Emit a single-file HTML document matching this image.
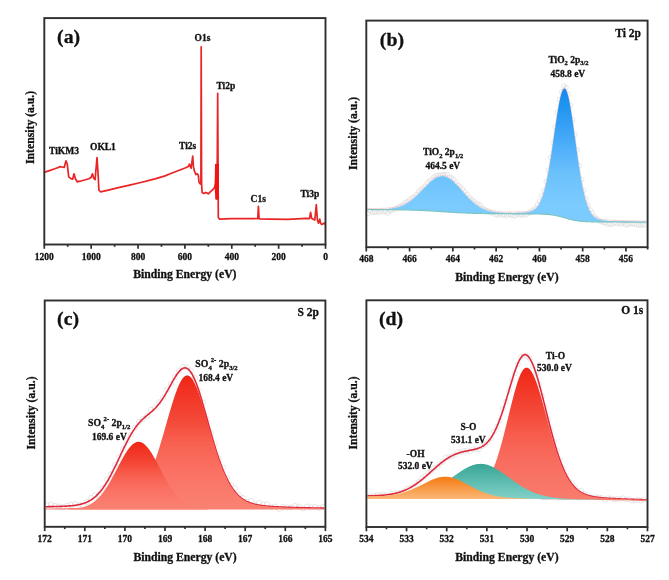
<!DOCTYPE html>
<html><head><meta charset="utf-8"><title>XPS spectra</title>
<style>html,body{margin:0;padding:0;background:#fff;}body{width:669px;height:580px;overflow:hidden;}svg{display:block;filter:blur(0.45px);}</style>
</head><body>
<svg width="669" height="580" viewBox="0 0 669 580">
<defs><linearGradient id="gb" gradientUnits="userSpaceOnUse" x1="0" y1="88" x2="0" y2="205"><stop offset="0" stop-color="#1689ee"/><stop offset="0.145" stop-color="#1e94f0"/><stop offset="0.547" stop-color="#55b2fb"/><stop offset="0.744" stop-color="#6cc2fb"/><stop offset="1" stop-color="#7ccbff"/></linearGradient><linearGradient id="gr" x1="0" y1="0" x2="0" y2="1"><stop offset="0" stop-color="#f02616"/><stop offset="0.33" stop-color="#f44838"/><stop offset="0.5" stop-color="#f86050"/><stop offset="0.72" stop-color="#fa7264"/><stop offset="1" stop-color="#fa8272"/></linearGradient><linearGradient id="go" x1="0" y1="0" x2="0" y2="1"><stop offset="0" stop-color="#f57a12"/><stop offset="1" stop-color="#fcb878"/></linearGradient><linearGradient id="gt" x1="0" y1="0" x2="0" y2="1"><stop offset="0" stop-color="#38a696"/><stop offset="1" stop-color="#84d2ca"/></linearGradient><linearGradient id="gr2" x1="0" y1="0" x2="0" y2="1"><stop offset="0" stop-color="#f02616"/><stop offset="0.33" stop-color="#f44838"/><stop offset="0.5" stop-color="#f75c4c"/><stop offset="0.72" stop-color="#f86e60"/><stop offset="1" stop-color="#f87c6c"/></linearGradient></defs>
<rect width="669" height="580" fill="#ffffff"/>
<path d="M44,172.4 L49.4,170.6 L54.8,168.8 L58.3,167.5 L60.1,166.6 L61.9,167 L64.2,167.5 L66,160.8 L67.3,164.3 L68.7,176.9 L70.9,178.7 L72.7,179.1 L74,173.8 L75.4,178.7 L77.2,181.8 L79.9,181.2 L84.4,180 L88.8,178.7 L91.1,177.4 L92.4,173.8 L93.8,178.3 L95.1,179.6 L97,157.6 L98,172.4 L98.9,190 L100.5,191.8 L107.2,190.3 L118.4,187.7 L129.6,185.1 L140.8,182.5 L155,178.9 L165,175.9 L170.2,173.8 L175.3,171.7 L180.5,169.7 L185.7,167.8 L188.3,166.6 L189.4,164.1 L191.1,168.3 L192.7,156 L193.5,166.9 L194.6,171.7 L195.9,174.5 L197.3,173.8 L198.3,175.2 L199,182.1 L200.1,183.8 L200.9,184.2 L201.2,46.8 L201.6,184 L202.1,192.4 L203.9,193.4 L205.9,192.4 L208.3,193.8 L210.8,191.4 L212.8,189.7 L214.6,187.2 L215.6,184 L215.8,164.5 L216.6,199 L217.2,170 L217.7,93.3 L218.3,217.5 L219.5,219.1 L231.6,218.6 L254.5,218.5 L257.8,218.6 L258.4,206.3 L259.1,218.8 L270,219.1 L287.9,219.3 L305.9,218.4 L309.5,218.6 L310.6,212.4 L311.7,218.6 L314.8,220 L316.3,204.7 L317.4,220 L318.4,223.1 L319.8,219.1 L320.7,223.6 L322,224.5 L323.8,223.1 L325.2,224.5" fill="none" stroke="#e92424" stroke-width="1.7" stroke-linejoin="round"/>
<path d="M214.6,186.8 L215.4,164 L219.0,163.5 L219.0,199.5 L215.4,199.5 Z" fill="#f01414"/>
<g fill="none" stroke="#d4d4d4" stroke-width="0.6" opacity="0.9"><circle cx="368" cy="213.39" r="2.3"/><circle cx="370.2" cy="211.08" r="2.3"/><circle cx="372.4" cy="212.55" r="2.3"/><circle cx="374.6" cy="212.02" r="2.3"/><circle cx="376.8" cy="212.02" r="2.3"/><circle cx="379" cy="212.05" r="2.3"/><circle cx="381.2" cy="211.03" r="2.3"/><circle cx="383.4" cy="211.75" r="2.3"/><circle cx="385.6" cy="211.19" r="2.3"/><circle cx="387.8" cy="212.96" r="2.3"/><circle cx="390" cy="210.99" r="2.3"/><circle cx="392.2" cy="210.14" r="2.3"/><circle cx="394.4" cy="209.46" r="2.3"/><circle cx="396.6" cy="208.36" r="2.3"/><circle cx="398.8" cy="207.04" r="2.3"/><circle cx="401" cy="205.98" r="2.3"/><circle cx="403.2" cy="204.75" r="2.3"/><circle cx="405.4" cy="202.4" r="2.3"/><circle cx="407.6" cy="201.55" r="2.3"/><circle cx="409.8" cy="199.51" r="2.3"/><circle cx="412" cy="197.98" r="2.3"/><circle cx="414.2" cy="196.91" r="2.3"/><circle cx="416.4" cy="194.42" r="2.3"/><circle cx="418.6" cy="191.76" r="2.3"/><circle cx="420.8" cy="189.69" r="2.3"/><circle cx="423" cy="187.76" r="2.3"/><circle cx="425.2" cy="186.17" r="2.3"/><circle cx="427.4" cy="182.85" r="2.3"/><circle cx="429.6" cy="180.77" r="2.3"/><circle cx="431.8" cy="179.49" r="2.3"/><circle cx="434" cy="176.91" r="2.3"/><circle cx="436.2" cy="175.89" r="2.3"/><circle cx="438.4" cy="175.54" r="2.3"/><circle cx="440.6" cy="174.86" r="2.3"/><circle cx="442.8" cy="174.52" r="2.3"/><circle cx="445" cy="175.15" r="2.3"/><circle cx="447.2" cy="174.18" r="2.3"/><circle cx="449.4" cy="177.29" r="2.3"/><circle cx="451.6" cy="177.85" r="2.3"/><circle cx="453.8" cy="179.36" r="2.3"/><circle cx="456" cy="182.46" r="2.3"/><circle cx="458.2" cy="184.99" r="2.3"/><circle cx="460.4" cy="186.85" r="2.3"/><circle cx="462.6" cy="189.03" r="2.3"/><circle cx="464.8" cy="192.05" r="2.3"/><circle cx="467" cy="194.43" r="2.3"/><circle cx="469.2" cy="197.45" r="2.3"/><circle cx="471.4" cy="199.27" r="2.3"/><circle cx="473.6" cy="200.96" r="2.3"/><circle cx="475.8" cy="203.19" r="2.3"/><circle cx="478" cy="204.1" r="2.3"/><circle cx="480.2" cy="205.1" r="2.3"/><circle cx="482.4" cy="207.86" r="2.3"/><circle cx="484.6" cy="209.59" r="2.3"/><circle cx="486.8" cy="210.64" r="2.3"/><circle cx="489" cy="211.52" r="2.3"/><circle cx="491.2" cy="212.97" r="2.3"/><circle cx="493.4" cy="212.34" r="2.3"/><circle cx="495.6" cy="214.5" r="2.3"/><circle cx="497.8" cy="214.83" r="2.3"/><circle cx="500" cy="214.07" r="2.3"/><circle cx="502.2" cy="215.14" r="2.3"/><circle cx="504.4" cy="214.77" r="2.3"/><circle cx="506.6" cy="215.71" r="2.3"/><circle cx="508.8" cy="214.35" r="2.3"/><circle cx="511" cy="214.9" r="2.3"/><circle cx="513.2" cy="215.68" r="2.3"/><circle cx="515.4" cy="215.83" r="2.3"/><circle cx="517.6" cy="214.07" r="2.3"/><circle cx="519.8" cy="214.75" r="2.3"/><circle cx="522" cy="214.97" r="2.3"/><circle cx="524.2" cy="214.22" r="2.3"/><circle cx="526.4" cy="214.89" r="2.3"/><circle cx="528.6" cy="212.83" r="2.3"/><circle cx="530.8" cy="212.54" r="2.3"/><circle cx="533" cy="210.14" r="2.3"/><circle cx="535.2" cy="208.68" r="2.3"/><circle cx="537.4" cy="204.86" r="2.3"/><circle cx="539.6" cy="201.26" r="2.3"/><circle cx="541.8" cy="195.68" r="2.3"/><circle cx="544" cy="190.64" r="2.3"/><circle cx="546.2" cy="181.33" r="2.3"/><circle cx="548.4" cy="170.3" r="2.3"/><circle cx="550.6" cy="157.45" r="2.3"/><circle cx="552.8" cy="142.52" r="2.3"/><circle cx="555" cy="126.89" r="2.3"/><circle cx="557.2" cy="112.28" r="2.3"/><circle cx="559.4" cy="99.78" r="2.3"/><circle cx="561.6" cy="91.86" r="2.3"/><circle cx="563.8" cy="86.16" r="2.3"/><circle cx="566" cy="87.72" r="2.3"/><circle cx="568.2" cy="94.29" r="2.3"/><circle cx="570.4" cy="105.45" r="2.3"/><circle cx="572.6" cy="119.64" r="2.3"/><circle cx="574.8" cy="134.36" r="2.3"/><circle cx="577" cy="149.98" r="2.3"/><circle cx="579.2" cy="165.76" r="2.3"/><circle cx="581.4" cy="179.54" r="2.3"/><circle cx="583.6" cy="190.3" r="2.3"/><circle cx="585.8" cy="198.74" r="2.3"/><circle cx="588" cy="205.04" r="2.3"/><circle cx="590.2" cy="210.08" r="2.3"/><circle cx="592.4" cy="213.09" r="2.3"/><circle cx="594.6" cy="216.88" r="2.3"/><circle cx="596.8" cy="218.6" r="2.3"/><circle cx="599" cy="220.67" r="2.3"/><circle cx="601.2" cy="221.56" r="2.3"/><circle cx="603.4" cy="222.53" r="2.3"/><circle cx="605.6" cy="222.8" r="2.3"/><circle cx="607.8" cy="224.26" r="2.3"/><circle cx="610" cy="223.96" r="2.3"/><circle cx="612.2" cy="224.13" r="2.3"/><circle cx="614.4" cy="222.52" r="2.3"/><circle cx="616.6" cy="223.5" r="2.3"/><circle cx="618.8" cy="223.48" r="2.3"/><circle cx="621" cy="224.15" r="2.3"/><circle cx="623.2" cy="222.84" r="2.3"/><circle cx="625.4" cy="224.65" r="2.3"/><circle cx="627.6" cy="224.68" r="2.3"/><circle cx="629.8" cy="223.57" r="2.3"/><circle cx="632" cy="223.79" r="2.3"/><circle cx="634.2" cy="223.94" r="2.3"/><circle cx="636.4" cy="224.43" r="2.3"/><circle cx="638.6" cy="224.78" r="2.3"/><circle cx="640.8" cy="225.53" r="2.3"/><circle cx="643" cy="224.46" r="2.3"/><circle cx="645.2" cy="224.98" r="2.3"/></g>
<path d="M367.3,208.53 L367.8,208.53 L368.3,208.53 L368.8,208.54 L369.3,208.54 L369.8,208.53 L370.3,208.53 L370.8,208.53 L371.3,208.53 L371.8,208.53 L372.3,208.53 L372.8,208.53 L373.3,208.52 L373.8,208.52 L374.3,208.52 L374.8,208.51 L375.3,208.51 L375.8,208.5 L376.3,208.5 L376.8,208.49 L377.3,208.48 L377.8,208.47 L378.3,208.46 L378.8,208.45 L379.3,208.44 L379.8,208.43 L380.3,208.42 L380.8,208.4 L381.3,208.38 L381.8,208.37 L382.3,208.35 L382.8,208.33 L383.3,208.3 L383.8,208.28 L384.3,208.25 L384.8,208.22 L385.3,208.19 L385.8,208.16 L386.3,208.12 L386.8,208.09 L387.3,208.05 L387.8,208 L388.3,207.96 L388.8,207.91 L389.3,207.85 L389.8,207.8 L390.3,207.74 L390.8,207.67 L391.3,207.61 L391.8,207.53 L392.3,207.46 L392.8,207.38 L393.3,207.29 L393.8,207.2 L394.3,207.11 L394.8,207.01 L395.3,206.9 L395.8,206.79 L396.3,206.67 L396.8,206.55 L397.3,206.41 L397.8,206.28 L398.3,206.13 L398.8,205.98 L399.3,205.82 L399.8,205.66 L400.3,205.48 L400.8,205.3 L401.3,205.11 L401.8,204.92 L402.3,204.71 L402.8,204.5 L403.3,204.27 L403.8,204.04 L404.3,203.8 L404.8,203.55 L405.3,203.29 L405.8,203.02 L406.3,202.74 L406.8,202.45 L407.3,202.15 L407.8,201.84 L408.3,201.53 L408.8,201.2 L409.3,200.86 L409.8,200.51 L410.3,200.16 L410.8,199.79 L411.3,199.41 L411.8,199.02 L412.3,198.63 L412.8,198.22 L413.3,197.81 L413.8,197.38 L414.3,196.95 L414.8,196.51 L415.3,196.06 L415.8,195.6 L416.3,195.14 L416.8,194.67 L417.3,194.19 L417.8,193.7 L418.3,193.21 L418.8,192.71 L419.3,192.21 L419.8,191.7 L420.3,191.19 L420.8,190.68 L421.3,190.16 L421.8,189.64 L422.3,189.12 L422.8,188.6 L423.3,188.08 L423.8,187.56 L424.3,187.04 L424.8,186.52 L425.3,186 L425.8,185.49 L426.3,184.98 L426.8,184.48 L427.3,183.98 L427.8,183.49 L428.3,183.01 L428.8,182.53 L429.3,182.06 L429.8,181.61 L430.3,181.16 L430.8,180.72 L431.3,180.3 L431.8,179.89 L432.3,179.49 L432.8,179.11 L433.3,178.74 L433.8,178.39 L434.3,178.05 L434.8,177.74 L435.3,177.44 L435.8,177.15 L436.3,176.89 L436.8,176.64 L437.3,176.42 L437.8,176.22 L438.3,176.03 L438.8,175.87 L439.3,175.73 L439.8,175.61 L440.3,175.51 L440.8,175.44 L441.3,175.39 L441.8,175.36 L442.3,175.35 L442.8,175.37 L443.3,175.41 L443.8,175.47 L444.3,175.56 L444.8,175.66 L445.3,175.79 L445.8,175.95 L446.3,176.12 L446.8,176.32 L447.3,176.54 L447.8,176.78 L448.3,177.03 L448.8,177.31 L449.3,177.61 L449.8,177.93 L450.3,178.27 L450.8,178.62 L451.3,179 L451.8,179.39 L452.3,179.79 L452.8,180.21 L453.3,180.65 L453.8,181.1 L454.3,181.56 L454.8,182.04 L455.3,182.52 L455.8,183.02 L456.3,183.53 L456.8,184.05 L457.3,184.57 L457.8,185.11 L458.3,185.65 L458.8,186.2 L459.3,186.75 L459.8,187.3 L460.3,187.86 L460.8,188.43 L461.3,188.99 L461.8,189.56 L462.3,190.12 L462.8,190.69 L463.3,191.26 L463.8,191.82 L464.3,192.38 L464.8,192.94 L465.3,193.5 L465.8,194.05 L466.3,194.6 L466.8,195.14 L467.3,195.67 L467.8,196.2 L468.3,196.73 L468.8,197.24 L469.3,197.75 L469.8,198.25 L470.3,198.74 L470.8,199.23 L471.3,199.7 L471.8,200.17 L472.3,200.62 L472.8,201.07 L473.3,201.5 L473.8,201.93 L474.3,202.35 L474.8,202.75 L475.3,203.15 L475.8,203.53 L476.3,203.91 L476.8,204.27 L477.3,204.62 L477.8,204.96 L478.3,205.3 L478.8,205.62 L479.3,205.93 L479.8,206.23 L480.3,206.52 L480.8,206.8 L481.3,207.07 L481.8,207.33 L482.3,207.58 L482.8,207.82 L483.3,208.05 L483.8,208.27 L484.3,208.49 L484.8,208.69 L485.3,208.89 L485.8,209.08 L486.3,209.25 L486.8,209.43 L487.3,209.59 L487.8,209.75 L488.3,209.89 L488.8,210.04 L489.3,210.17 L489.8,210.3 L490.3,210.42 L490.8,210.53 L491.3,210.64 L491.8,210.75 L492.3,210.85 L492.8,210.94 L493.3,211.03 L493.8,211.11 L494.3,211.19 L494.8,211.26 L495.3,211.33 L495.8,211.39 L496.3,211.45 L496.8,211.51 L497.3,211.56 L497.8,211.61 L498.3,211.66 L498.8,211.7 L499.3,211.74 L499.8,211.78 L500.3,211.81 L500.8,211.84 L501.3,211.87 L501.8,211.9 L502.3,211.92 L502.8,211.95 L503.3,211.97 L503.8,211.99 L504.3,212 L504.8,212.02 L505.3,212.03 L505.8,212.04 L506.3,212.05 L506.8,212.06 L507.3,212.07 L507.8,212.07 L508.3,212.08 L508.8,212.08 L509.3,212.09 L509.8,212.09 L510.3,212.09 L510.8,212.09 L511.3,212.08 L511.8,212.08 L512.3,212.08 L512.8,212.07 L513.3,212.07 L513.8,212.06 L514.3,212.06 L514.8,212.05 L515.3,212.04 L515.8,212.03 L516.3,212.02 L516.8,212.01 L517.3,211.99 L517.8,211.98 L518.3,211.96 L518.8,211.95 L519.3,211.93 L519.8,211.91 L520.3,211.89 L520.8,211.87 L521.3,211.84 L521.8,211.82 L522.3,211.79 L522.8,211.76 L523.3,211.73 L523.8,211.69 L524.3,211.65 L524.8,211.6 L525.3,211.55 L525.8,211.5 L526.3,211.44 L526.8,211.37 L527.3,211.3 L527.8,211.21 L528.3,211.12 L528.8,211.02 L529.3,210.91 L529.8,210.78 L530.3,210.64 L530.8,210.48 L531.3,210.3 L531.8,210.11 L532.3,209.89 L532.8,209.65 L533.3,209.38 L533.8,209.08 L534.3,208.75 L534.8,208.38 L535.3,207.97 L535.8,207.53 L536.3,207.03 L536.8,206.49 L537.3,205.89 L537.8,205.24 L538.3,204.53 L538.8,203.75 L539.3,202.9 L539.8,201.97 L540.3,200.97 L540.8,199.88 L541.3,198.71 L541.8,197.44 L542.3,196.08 L542.8,194.63 L543.3,193.06 L543.8,191.4 L544.3,189.62 L544.8,187.74 L545.3,185.74 L545.8,183.63 L546.3,181.4 L546.8,179.06 L547.3,176.61 L547.8,174.05 L548.3,171.37 L548.8,168.59 L549.3,165.71 L549.8,162.73 L550.3,159.66 L550.8,156.51 L551.3,153.28 L551.8,149.99 L552.3,146.64 L552.8,143.25 L553.3,139.82 L553.8,136.38 L554.3,132.93 L554.8,129.48 L555.3,126.07 L555.8,122.69 L556.3,119.36 L556.8,116.12 L557.3,112.96 L557.8,109.91 L558.3,106.98 L558.8,104.2 L559.3,101.58 L559.8,99.14 L560.3,96.9 L560.8,94.86 L561.3,93.05 L561.8,91.47 L562.3,90.15 L562.8,89.09 L563.3,88.3 L563.8,87.79 L564.3,87.56 L564.8,87.62 L565.3,87.96 L565.8,88.59 L566.3,89.49 L566.8,90.67 L567.3,92.11 L567.8,93.81 L568.3,95.75 L568.8,97.92 L569.3,100.31 L569.8,102.89 L570.3,105.66 L570.8,108.59 L571.3,111.67 L571.8,114.88 L572.3,118.21 L572.8,121.62 L573.3,125.12 L573.8,128.67 L574.3,132.27 L574.8,135.89 L575.3,139.52 L575.8,143.15 L576.3,146.75 L576.8,150.33 L577.3,153.86 L577.8,157.33 L578.3,160.73 L578.8,164.06 L579.3,167.3 L579.8,170.45 L580.3,173.5 L580.8,176.45 L581.3,179.28 L581.8,182 L582.3,184.61 L582.8,187.09 L583.3,189.46 L583.8,191.71 L584.3,193.84 L584.8,195.85 L585.3,197.75 L585.8,199.53 L586.3,201.2 L586.8,202.76 L587.3,204.22 L587.8,205.58 L588.3,206.84 L588.8,208.01 L589.3,209.09 L589.8,210.09 L590.3,211.01 L590.8,211.85 L591.3,212.63 L591.8,213.34 L592.3,213.98 L592.8,214.58 L593.3,215.11 L593.8,215.6 L594.3,216.05 L594.8,216.45 L595.3,216.81 L595.8,217.14 L596.3,217.44 L596.8,217.71 L597.3,217.95 L597.8,218.17 L598.3,218.37 L598.8,218.54 L599.3,218.7 L599.8,218.85 L600.3,218.97 L600.8,219.09 L601.3,219.2 L601.8,219.29 L602.3,219.38 L602.8,219.46 L603.3,219.53 L603.8,219.59 L604.3,219.65 L604.8,219.71 L605.3,219.76 L605.8,219.8 L606.3,219.85 L606.8,219.89 L607.3,219.92 L607.8,219.96 L608.3,219.99 L608.8,220.02 L609.3,220.05 L609.8,220.08 L610.3,220.1 L610.8,220.13 L611.3,220.15 L611.8,220.18 L612.3,220.2 L612.8,220.22 L613.3,220.24 L613.8,220.26 L614.3,220.28 L614.8,220.3 L615.3,220.32 L615.8,220.33 L616.3,220.35 L616.8,220.37 L617.3,220.38 L617.8,220.4 L618.3,220.42 L618.8,220.43 L619.3,220.45 L619.8,220.46 L620.3,220.47 L620.8,220.49 L621.3,220.5 L621.8,220.52 L622.3,220.53 L622.8,220.54 L623.3,220.55 L623.8,220.57 L624.3,220.58 L624.8,220.59 L625.3,220.6 L625.8,220.62 L626.3,220.63 L626.8,220.64 L627.3,220.65 L627.8,220.66 L628.3,220.67 L628.8,220.68 L629.3,220.69 L629.8,220.7 L630.3,220.71 L630.8,220.72 L631.3,220.73 L631.8,220.74 L632.3,220.75 L632.8,220.76 L633.3,220.77 L633.8,220.78 L634.3,220.79 L634.8,220.8 L635.3,220.8 L635.8,220.81 L636.3,220.82 L636.8,220.83 L637.3,220.84 L637.8,220.85 L638.3,220.85 L638.8,220.86 L639.3,220.87 L639.8,220.88 L640.3,220.89 L640.8,220.89 L641.3,220.9 L641.8,220.91 L642.3,220.92 L642.8,220.92 L643.3,220.93 L643.8,220.94 L644.3,220.94 L644.8,220.95 L645.3,220.96 L645.8,220.96 L646.3,220.97" fill="none" stroke="#f0b0b0" stroke-width="0.8" opacity="0.7"/>
<path d="M367.3,209.43 L367.8,209.43 L368.3,209.43 L368.8,209.44 L369.3,209.44 L369.8,209.43 L370.3,209.43 L370.8,209.43 L371.3,209.43 L371.8,209.43 L372.3,209.43 L372.8,209.43 L373.3,209.42 L373.8,209.42 L374.3,209.42 L374.8,209.41 L375.3,209.41 L375.8,209.4 L376.3,209.4 L376.8,209.39 L377.3,209.38 L377.8,209.37 L378.3,209.36 L378.8,209.35 L379.3,209.34 L379.8,209.33 L380.3,209.32 L380.8,209.3 L381.3,209.28 L381.8,209.27 L382.3,209.25 L382.8,209.23 L383.3,209.2 L383.8,209.18 L384.3,209.15 L384.8,209.12 L385.3,209.09 L385.8,209.06 L386.3,209.02 L386.8,208.99 L387.3,208.95 L387.8,208.9 L388.3,208.86 L388.8,208.81 L389.3,208.75 L389.8,208.7 L390.3,208.64 L390.8,208.57 L391.3,208.51 L391.8,208.43 L392.3,208.36 L392.8,208.28 L393.3,208.19 L393.8,208.1 L394.3,208.01 L394.8,207.91 L395.3,207.8 L395.8,207.69 L396.3,207.57 L396.8,207.45 L397.3,207.31 L397.8,207.18 L398.3,207.03 L398.8,206.88 L399.3,206.72 L399.8,206.56 L400.3,206.38 L400.8,206.2 L401.3,206.01 L401.8,205.82 L402.3,205.61 L402.8,205.4 L403.3,205.17 L403.8,204.94 L404.3,204.7 L404.8,204.45 L405.3,204.19 L405.8,203.92 L406.3,203.64 L406.8,203.35 L407.3,203.05 L407.8,202.74 L408.3,202.43 L408.8,202.1 L409.3,201.76 L409.8,201.41 L410.3,201.06 L410.8,200.69 L411.3,200.31 L411.8,199.92 L412.3,199.53 L412.8,199.12 L413.3,198.71 L413.8,198.28 L414.3,197.85 L414.8,197.41 L415.3,196.96 L415.8,196.5 L416.3,196.04 L416.8,195.57 L417.3,195.09 L417.8,194.6 L418.3,194.11 L418.8,193.61 L419.3,193.11 L419.8,192.6 L420.3,192.09 L420.8,191.58 L421.3,191.06 L421.8,190.54 L422.3,190.02 L422.8,189.5 L423.3,188.98 L423.8,188.46 L424.3,187.94 L424.8,187.42 L425.3,186.9 L425.8,186.39 L426.3,185.88 L426.8,185.38 L427.3,184.88 L427.8,184.39 L428.3,183.91 L428.8,183.43 L429.3,182.96 L429.8,182.51 L430.3,182.06 L430.8,181.62 L431.3,181.2 L431.8,180.79 L432.3,180.39 L432.8,180.01 L433.3,179.64 L433.8,179.29 L434.3,178.95 L434.8,178.64 L435.3,178.34 L435.8,178.05 L436.3,177.79 L436.8,177.54 L437.3,177.32 L437.8,177.12 L438.3,176.93 L438.8,176.77 L439.3,176.63 L439.8,176.51 L440.3,176.41 L440.8,176.34 L441.3,176.29 L441.8,176.26 L442.3,176.25 L442.8,176.27 L443.3,176.31 L443.8,176.37 L444.3,176.46 L444.8,176.56 L445.3,176.69 L445.8,176.85 L446.3,177.02 L446.8,177.22 L447.3,177.44 L447.8,177.68 L448.3,177.93 L448.8,178.21 L449.3,178.51 L449.8,178.83 L450.3,179.17 L450.8,179.52 L451.3,179.9 L451.8,180.29 L452.3,180.69 L452.8,181.11 L453.3,181.55 L453.8,182 L454.3,182.46 L454.8,182.94 L455.3,183.42 L455.8,183.92 L456.3,184.43 L456.8,184.95 L457.3,185.47 L457.8,186.01 L458.3,186.55 L458.8,187.1 L459.3,187.65 L459.8,188.2 L460.3,188.76 L460.8,189.33 L461.3,189.89 L461.8,190.46 L462.3,191.02 L462.8,191.59 L463.3,192.16 L463.8,192.72 L464.3,193.28 L464.8,193.84 L465.3,194.4 L465.8,194.95 L466.3,195.5 L466.8,196.04 L467.3,196.57 L467.8,197.1 L468.3,197.63 L468.8,198.14 L469.3,198.65 L469.8,199.15 L470.3,199.64 L470.8,200.13 L471.3,200.6 L471.8,201.07 L472.3,201.52 L472.8,201.97 L473.3,202.4 L473.8,202.83 L474.3,203.25 L474.8,203.65 L475.3,204.05 L475.8,204.43 L476.3,204.81 L476.8,205.17 L477.3,205.52 L477.8,205.86 L478.3,206.2 L478.8,206.52 L479.3,206.83 L479.8,207.13 L480.3,207.42 L480.8,207.7 L481.3,207.97 L481.8,208.23 L482.3,208.48 L482.8,208.72 L483.3,208.95 L483.8,209.17 L484.3,209.39 L484.8,209.59 L485.3,209.79 L485.8,209.98 L486.3,210.15 L486.8,210.33 L487.3,210.49 L487.8,210.65 L488.3,210.79 L488.8,210.94 L489.3,211.07 L489.8,211.2 L490.3,211.32 L490.8,211.43 L491.3,211.54 L491.8,211.65 L492.3,211.75 L492.8,211.84 L493.3,211.93 L493.8,212.01 L494.3,212.09 L494.8,212.16 L495.3,212.23 L495.8,212.29 L496.3,212.35 L496.8,212.41 L497.3,212.46 L497.8,212.51 L498.3,212.56 L498.8,212.6 L499.3,212.64 L499.8,212.68 L500.3,212.71 L500.8,212.74 L501.3,212.77 L501.8,212.8 L502.3,212.82 L502.8,212.85 L503.3,212.87 L503.8,212.89 L504.3,212.9 L504.8,212.92 L505.3,212.93 L505.8,212.94 L506.3,212.95 L506.8,212.96 L507.3,212.97 L507.8,212.97 L508.3,212.98 L508.8,212.98 L509.3,212.99 L509.8,212.99 L510.3,212.99 L510.8,212.99 L511.3,212.98 L511.8,212.98 L512.3,212.98 L512.8,212.97 L513.3,212.97 L513.8,212.96 L514.3,212.96 L514.8,212.95 L515.3,212.94 L515.8,212.93 L516.3,212.92 L516.8,212.91 L517.3,212.89 L517.8,212.88 L518.3,212.86 L518.8,212.85 L519.3,212.83 L519.8,212.81 L520.3,212.79 L520.8,212.77 L521.3,212.74 L521.8,212.72 L522.3,212.69 L522.8,212.66 L523.3,212.63 L523.8,212.59 L524.3,212.55 L524.8,212.5 L525.3,212.45 L525.8,212.4 L526.3,212.34 L526.8,212.27 L527.3,212.2 L527.8,212.11 L528.3,212.02 L528.8,211.92 L529.3,211.81 L529.8,211.68 L530.3,211.54 L530.8,211.38 L531.3,211.2 L531.8,211.01 L532.3,210.79 L532.8,210.55 L533.3,210.28 L533.8,209.98 L534.3,209.65 L534.8,209.28 L535.3,208.87 L535.8,208.43 L536.3,207.93 L536.8,207.39 L537.3,206.79 L537.8,206.14 L538.3,205.43 L538.8,204.65 L539.3,203.8 L539.8,202.87 L540.3,201.87 L540.8,200.78 L541.3,199.61 L541.8,198.34 L542.3,196.98 L542.8,195.53 L543.3,193.96 L543.8,192.3 L544.3,190.52 L544.8,188.64 L545.3,186.64 L545.8,184.53 L546.3,182.3 L546.8,179.96 L547.3,177.51 L547.8,174.95 L548.3,172.27 L548.8,169.49 L549.3,166.61 L549.8,163.63 L550.3,160.56 L550.8,157.41 L551.3,154.18 L551.8,150.89 L552.3,147.54 L552.8,144.15 L553.3,140.72 L553.8,137.28 L554.3,133.83 L554.8,130.38 L555.3,126.97 L555.8,123.59 L556.3,120.26 L556.8,117.02 L557.3,113.86 L557.8,110.81 L558.3,107.88 L558.8,105.1 L559.3,102.48 L559.8,100.04 L560.3,97.8 L560.8,95.76 L561.3,93.95 L561.8,92.37 L562.3,91.05 L562.8,89.99 L563.3,89.2 L563.8,88.69 L564.3,88.46 L564.8,88.52 L565.3,88.86 L565.8,89.49 L566.3,90.39 L566.8,91.57 L567.3,93.01 L567.8,94.71 L568.3,96.65 L568.8,98.82 L569.3,101.21 L569.8,103.79 L570.3,106.56 L570.8,109.49 L571.3,112.57 L571.8,115.78 L572.3,119.11 L572.8,122.52 L573.3,126.02 L573.8,129.57 L574.3,133.17 L574.8,136.79 L575.3,140.42 L575.8,144.05 L576.3,147.65 L576.8,151.23 L577.3,154.76 L577.8,158.23 L578.3,161.63 L578.8,164.96 L579.3,168.2 L579.8,171.35 L580.3,174.4 L580.8,177.35 L581.3,180.18 L581.8,182.9 L582.3,185.51 L582.8,187.99 L583.3,190.36 L583.8,192.61 L584.3,194.74 L584.8,196.75 L585.3,198.65 L585.8,200.43 L586.3,202.1 L586.8,203.66 L587.3,205.12 L587.8,206.48 L588.3,207.74 L588.8,208.91 L589.3,209.99 L589.8,210.99 L590.3,211.91 L590.8,212.75 L591.3,213.53 L591.8,214.24 L592.3,214.88 L592.8,215.48 L593.3,216.01 L593.8,216.5 L594.3,216.95 L594.8,217.35 L595.3,217.71 L595.8,218.04 L596.3,218.34 L596.8,218.61 L597.3,218.85 L597.8,219.07 L598.3,219.27 L598.8,219.44 L599.3,219.6 L599.8,219.75 L600.3,219.87 L600.8,219.99 L601.3,220.1 L601.8,220.19 L602.3,220.28 L602.8,220.36 L603.3,220.43 L603.8,220.49 L604.3,220.55 L604.8,220.61 L605.3,220.66 L605.8,220.7 L606.3,220.75 L606.8,220.79 L607.3,220.82 L607.8,220.86 L608.3,220.89 L608.8,220.92 L609.3,220.95 L609.8,220.98 L610.3,221 L610.8,221.03 L611.3,221.05 L611.8,221.08 L612.3,221.1 L612.8,221.12 L613.3,221.14 L613.8,221.16 L614.3,221.18 L614.8,221.2 L615.3,221.22 L615.8,221.23 L616.3,221.25 L616.8,221.27 L617.3,221.28 L617.8,221.3 L618.3,221.32 L618.8,221.33 L619.3,221.35 L619.8,221.36 L620.3,221.37 L620.8,221.39 L621.3,221.4 L621.8,221.42 L622.3,221.43 L622.8,221.44 L623.3,221.45 L623.8,221.47 L624.3,221.48 L624.8,221.49 L625.3,221.5 L625.8,221.52 L626.3,221.53 L626.8,221.54 L627.3,221.55 L627.8,221.56 L628.3,221.57 L628.8,221.58 L629.3,221.59 L629.8,221.6 L630.3,221.61 L630.8,221.62 L631.3,221.63 L631.8,221.64 L632.3,221.65 L632.8,221.66 L633.3,221.67 L633.8,221.68 L634.3,221.69 L634.8,221.7 L635.3,221.7 L635.8,221.71 L636.3,221.72 L636.8,221.73 L637.3,221.74 L637.8,221.75 L638.3,221.75 L638.8,221.76 L639.3,221.77 L639.8,221.78 L640.3,221.79 L640.8,221.79 L641.3,221.8 L641.8,221.81 L642.3,221.82 L642.8,221.82 L643.3,221.83 L643.8,221.84 L644.3,221.84 L644.8,221.85 L645.3,221.86 L645.8,221.86 L646.3,221.87 L646.3,222.18 L645.8,222.18 L645.3,222.18 L644.8,222.17 L644.3,222.17 L643.8,222.17 L643.3,222.16 L642.8,222.16 L642.3,222.16 L641.8,222.15 L641.3,222.15 L640.8,222.15 L640.3,222.15 L639.8,222.14 L639.3,222.14 L638.8,222.14 L638.3,222.13 L637.8,222.13 L637.3,222.13 L636.8,222.12 L636.3,222.12 L635.8,222.12 L635.3,222.12 L634.8,222.11 L634.3,222.11 L633.8,222.11 L633.3,222.1 L632.8,222.1 L632.3,222.1 L631.8,222.09 L631.3,222.09 L630.8,222.09 L630.3,222.09 L629.8,222.08 L629.3,222.08 L628.8,222.08 L628.3,222.07 L627.8,222.07 L627.3,222.07 L626.8,222.06 L626.3,222.06 L625.8,222.06 L625.3,222.06 L624.8,222.05 L624.3,222.05 L623.8,222.05 L623.3,222.04 L622.8,222.04 L622.3,222.04 L621.8,222.03 L621.3,222.03 L620.8,222.03 L620.3,222.03 L619.8,222.02 L619.3,222.02 L618.8,222.02 L618.3,222.01 L617.8,222.01 L617.3,222.01 L616.8,222 L616.3,222 L615.8,222 L615.3,222 L614.8,221.99 L614.3,221.99 L613.8,221.99 L613.3,221.98 L612.8,221.98 L612.3,221.98 L611.8,221.97 L611.3,221.97 L610.8,221.97 L610.3,221.97 L609.8,221.96 L609.3,221.96 L608.8,221.96 L608.3,221.95 L607.8,221.95 L607.3,221.95 L606.8,221.94 L606.3,221.94 L605.8,221.94 L605.3,221.93 L604.8,221.93 L604.3,221.93 L603.8,221.93 L603.3,221.92 L602.8,221.92 L602.3,221.92 L601.8,221.91 L601.3,221.91 L600.8,221.9 L600.3,221.9 L599.8,221.9 L599.3,221.89 L598.8,221.89 L598.3,221.89 L597.8,221.88 L597.3,221.88 L596.8,221.87 L596.3,221.87 L595.8,221.86 L595.3,221.86 L594.8,221.85 L594.3,221.84 L593.8,221.84 L593.3,221.83 L592.8,221.82 L592.3,221.81 L591.8,221.8 L591.3,221.79 L590.8,221.78 L590.3,221.77 L589.8,221.76 L589.3,221.74 L588.8,221.73 L588.3,221.71 L587.8,221.69 L587.3,221.67 L586.8,221.65 L586.3,221.63 L585.8,221.6 L585.3,221.58 L584.8,221.55 L584.3,221.52 L583.8,221.49 L583.3,221.45 L582.8,221.41 L582.3,221.37 L581.8,221.33 L581.3,221.28 L580.8,221.23 L580.3,221.18 L579.8,221.12 L579.3,221.06 L578.8,221 L578.3,220.93 L577.8,220.86 L577.3,220.78 L576.8,220.7 L576.3,220.62 L575.8,220.54 L575.3,220.45 L574.8,220.35 L574.3,220.25 L573.8,220.15 L573.3,220.05 L572.8,219.94 L572.3,219.83 L571.8,219.71 L571.3,219.59 L570.8,219.47 L570.3,219.34 L569.8,219.22 L569.3,219.09 L568.8,218.95 L568.3,218.82 L567.8,218.68 L567.3,218.54 L566.8,218.4 L566.3,218.26 L565.8,218.12 L565.3,217.98 L564.8,217.84 L564.3,217.7 L563.8,217.55 L563.3,217.41 L562.8,217.27 L562.3,217.13 L561.8,217 L561.3,216.86 L560.8,216.73 L560.3,216.6 L559.8,216.47 L559.3,216.34 L558.8,216.22 L558.3,216.1 L557.8,215.98 L557.3,215.87 L556.8,215.76 L556.3,215.66 L555.8,215.55 L555.3,215.46 L554.8,215.36 L554.3,215.27 L553.8,215.18 L553.3,215.1 L552.8,215.02 L552.3,214.94 L551.8,214.87 L551.3,214.81 L550.8,214.74 L550.3,214.68 L549.8,214.62 L549.3,214.57 L548.8,214.52 L548.3,214.47 L547.8,214.43 L547.3,214.38 L546.8,214.35 L546.3,214.31 L545.8,214.28 L545.3,214.24 L544.8,214.22 L544.3,214.19 L543.8,214.16 L543.3,214.14 L542.8,214.12 L542.3,214.1 L541.8,214.08 L541.3,214.06 L540.8,214.05 L540.3,214.03 L539.8,214.02 L539.3,214.01 L538.8,214 L538.3,213.99 L537.8,213.98 L537.3,213.97 L536.8,213.96 L536.3,213.95 L535.8,213.95 L535.3,213.94 L534.8,213.93 L534.3,213.93 L533.8,213.92 L533.3,213.92 L532.8,213.91 L532.3,213.91 L531.8,213.9 L531.3,213.9 L530.8,213.9 L530.3,213.89 L529.8,213.89 L529.3,213.88 L528.8,213.88 L528.3,213.88 L527.8,213.87 L527.3,213.87 L526.8,213.87 L526.3,213.86 L525.8,213.86 L525.3,213.86 L524.8,213.85 L524.3,213.85 L523.8,213.85 L523.3,213.84 L522.8,213.84 L522.3,213.84 L521.8,213.83 L521.3,213.83 L520.8,213.83 L520.3,213.83 L519.8,213.82 L519.3,213.82 L518.8,213.82 L518.3,213.81 L517.8,213.81 L517.3,213.81 L516.8,213.8 L516.3,213.8 L515.8,213.8 L515.3,213.79 L514.8,213.79 L514.3,213.79 L513.8,213.78 L513.3,213.78 L512.8,213.78 L512.3,213.78 L511.8,213.77 L511.3,213.77 L510.8,213.77 L510.3,213.76 L509.8,213.76 L509.3,213.76 L508.8,213.75 L508.3,213.75 L507.8,213.75 L507.3,213.74 L506.8,213.74 L506.3,213.74 L505.8,213.73 L505.3,213.73 L504.8,213.73 L504.3,213.72 L503.8,213.72 L503.3,213.71 L502.8,213.71 L502.3,213.71 L501.8,213.7 L501.3,213.7 L500.8,213.7 L500.3,213.69 L499.8,213.69 L499.3,213.68 L498.8,213.68 L498.3,213.68 L497.8,213.67 L497.3,213.67 L496.8,213.66 L496.3,213.66 L495.8,213.65 L495.3,213.65 L494.8,213.64 L494.3,213.64 L493.8,213.64 L493.3,213.63 L492.8,213.63 L492.3,213.62 L491.8,213.61 L491.3,213.61 L490.8,213.6 L490.3,213.6 L489.8,213.59 L489.3,213.59 L488.8,213.58 L488.3,213.57 L487.8,213.57 L487.3,213.56 L486.8,213.55 L486.3,213.55 L485.8,213.54 L485.3,213.53 L484.8,213.52 L484.3,213.52 L483.8,213.51 L483.3,213.5 L482.8,213.49 L482.3,213.48 L481.8,213.48 L481.3,213.47 L480.8,213.46 L480.3,213.45 L479.8,213.44 L479.3,213.43 L478.8,213.42 L478.3,213.41 L477.8,213.39 L477.3,213.38 L476.8,213.37 L476.3,213.36 L475.8,213.35 L475.3,213.33 L474.8,213.32 L474.3,213.31 L473.8,213.29 L473.3,213.28 L472.8,213.27 L472.3,213.25 L471.8,213.24 L471.3,213.22 L470.8,213.2 L470.3,213.19 L469.8,213.17 L469.3,213.15 L468.8,213.14 L468.3,213.12 L467.8,213.1 L467.3,213.08 L466.8,213.06 L466.3,213.04 L465.8,213.02 L465.3,213 L464.8,212.98 L464.3,212.96 L463.8,212.94 L463.3,212.92 L462.8,212.9 L462.3,212.87 L461.8,212.85 L461.3,212.83 L460.8,212.8 L460.3,212.78 L459.8,212.75 L459.3,212.73 L458.8,212.7 L458.3,212.67 L457.8,212.65 L457.3,212.62 L456.8,212.59 L456.3,212.57 L455.8,212.54 L455.3,212.51 L454.8,212.48 L454.3,212.45 L453.8,212.42 L453.3,212.39 L452.8,212.36 L452.3,212.33 L451.8,212.3 L451.3,212.27 L450.8,212.24 L450.3,212.21 L449.8,212.17 L449.3,212.14 L448.8,212.11 L448.3,212.08 L447.8,212.04 L447.3,212.01 L446.8,211.98 L446.3,211.95 L445.8,211.91 L445.3,211.88 L444.8,211.84 L444.3,211.81 L443.8,211.78 L443.3,211.74 L442.8,211.71 L442.3,211.68 L441.8,211.64 L441.3,211.61 L440.8,211.57 L440.3,211.54 L439.8,211.51 L439.3,211.47 L438.8,211.44 L438.3,211.41 L437.8,211.37 L437.3,211.34 L436.8,211.31 L436.3,211.27 L435.8,211.24 L435.3,211.21 L434.8,211.18 L434.3,211.14 L433.8,211.11 L433.3,211.08 L432.8,211.05 L432.3,211.02 L431.8,210.99 L431.3,210.96 L430.8,210.93 L430.3,210.9 L429.8,210.87 L429.3,210.84 L428.8,210.81 L428.3,210.78 L427.8,210.75 L427.3,210.72 L426.8,210.7 L426.3,210.67 L425.8,210.64 L425.3,210.62 L424.8,210.59 L424.3,210.57 L423.8,210.54 L423.3,210.52 L422.8,210.49 L422.3,210.47 L421.8,210.44 L421.3,210.42 L420.8,210.4 L420.3,210.38 L419.8,210.35 L419.3,210.33 L418.8,210.31 L418.3,210.29 L417.8,210.27 L417.3,210.25 L416.8,210.23 L416.3,210.21 L415.8,210.2 L415.3,210.18 L414.8,210.16 L414.3,210.14 L413.8,210.13 L413.3,210.11 L412.8,210.09 L412.3,210.08 L411.8,210.06 L411.3,210.05 L410.8,210.03 L410.3,210.02 L409.8,210.01 L409.3,209.99 L408.8,209.98 L408.3,209.97 L407.8,209.95 L407.3,209.94 L406.8,209.93 L406.3,209.92 L405.8,209.91 L405.3,209.9 L404.8,209.89 L404.3,209.88 L403.8,209.87 L403.3,209.86 L402.8,209.85 L402.3,209.84 L401.8,209.83 L401.3,209.82 L400.8,209.81 L400.3,209.8 L399.8,209.8 L399.3,209.79 L398.8,209.78 L398.3,209.77 L397.8,209.77 L397.3,209.76 L396.8,209.75 L396.3,209.75 L395.8,209.74 L395.3,209.73 L394.8,209.73 L394.3,209.72 L393.8,209.72 L393.3,209.71 L392.8,209.7 L392.3,209.7 L391.8,209.69 L391.3,209.69 L390.8,209.68 L390.3,209.68 L389.8,209.67 L389.3,209.67 L388.8,209.66 L388.3,209.66 L387.8,209.65 L387.3,209.65 L386.8,209.65 L386.3,209.64 L385.8,209.64 L385.3,209.63 L384.8,209.63 L384.3,209.62 L383.8,209.62 L383.3,209.62 L382.8,209.61 L382.3,209.61 L381.8,209.61 L381.3,209.6 L380.8,209.6 L380.3,209.59 L379.8,209.59 L379.3,209.59 L378.8,209.58 L378.3,209.58 L377.8,209.58 L377.3,209.57 L376.8,209.57 L376.3,209.57 L375.8,209.56 L375.3,209.56 L374.8,209.56 L374.3,209.55 L373.8,209.55 L373.3,209.55 L372.8,209.54 L372.3,209.54 L371.8,209.54 L371.3,209.53 L370.8,209.53 L370.3,209.53 L369.8,209.52 L369.3,209.52 L368.8,209.52 L368.3,209.52 L367.8,209.51 L367.3,209.51 Z" fill="url(#gb)"/>
<path d="M367.3,209.51 L367.8,209.51 L368.3,209.52 L368.8,209.52 L369.3,209.52 L369.8,209.52 L370.3,209.53 L370.8,209.53 L371.3,209.53 L371.8,209.54 L372.3,209.54 L372.8,209.54 L373.3,209.55 L373.8,209.55 L374.3,209.55 L374.8,209.56 L375.3,209.56 L375.8,209.56 L376.3,209.57 L376.8,209.57 L377.3,209.57 L377.8,209.58 L378.3,209.58 L378.8,209.58 L379.3,209.59 L379.8,209.59 L380.3,209.59 L380.8,209.6 L381.3,209.6 L381.8,209.61 L382.3,209.61 L382.8,209.61 L383.3,209.62 L383.8,209.62 L384.3,209.62 L384.8,209.63 L385.3,209.63 L385.8,209.64 L386.3,209.64 L386.8,209.65 L387.3,209.65 L387.8,209.65 L388.3,209.66 L388.8,209.66 L389.3,209.67 L389.8,209.67 L390.3,209.68 L390.8,209.68 L391.3,209.69 L391.8,209.69 L392.3,209.7 L392.8,209.7 L393.3,209.71 L393.8,209.72 L394.3,209.72 L394.8,209.73 L395.3,209.73 L395.8,209.74 L396.3,209.75 L396.8,209.75 L397.3,209.76 L397.8,209.77 L398.3,209.77 L398.8,209.78 L399.3,209.79 L399.8,209.8 L400.3,209.8 L400.8,209.81 L401.3,209.82 L401.8,209.83 L402.3,209.84 L402.8,209.85 L403.3,209.86 L403.8,209.87 L404.3,209.88 L404.8,209.89 L405.3,209.9 L405.8,209.91 L406.3,209.92 L406.8,209.93 L407.3,209.94 L407.8,209.95 L408.3,209.97 L408.8,209.98 L409.3,209.99 L409.8,210.01 L410.3,210.02 L410.8,210.03 L411.3,210.05 L411.8,210.06 L412.3,210.08 L412.8,210.09 L413.3,210.11 L413.8,210.13 L414.3,210.14 L414.8,210.16 L415.3,210.18 L415.8,210.2 L416.3,210.21 L416.8,210.23 L417.3,210.25 L417.8,210.27 L418.3,210.29 L418.8,210.31 L419.3,210.33 L419.8,210.35 L420.3,210.38 L420.8,210.4 L421.3,210.42 L421.8,210.44 L422.3,210.47 L422.8,210.49 L423.3,210.52 L423.8,210.54 L424.3,210.57 L424.8,210.59 L425.3,210.62 L425.8,210.64 L426.3,210.67 L426.8,210.7 L427.3,210.72 L427.8,210.75 L428.3,210.78 L428.8,210.81 L429.3,210.84 L429.8,210.87 L430.3,210.9 L430.8,210.93 L431.3,210.96 L431.8,210.99 L432.3,211.02 L432.8,211.05 L433.3,211.08 L433.8,211.11 L434.3,211.14 L434.8,211.18 L435.3,211.21 L435.8,211.24 L436.3,211.27 L436.8,211.31 L437.3,211.34 L437.8,211.37 L438.3,211.41 L438.8,211.44 L439.3,211.47 L439.8,211.51 L440.3,211.54 L440.8,211.57 L441.3,211.61 L441.8,211.64 L442.3,211.68 L442.8,211.71 L443.3,211.74 L443.8,211.78 L444.3,211.81 L444.8,211.84 L445.3,211.88 L445.8,211.91 L446.3,211.95 L446.8,211.98 L447.3,212.01 L447.8,212.04 L448.3,212.08 L448.8,212.11 L449.3,212.14 L449.8,212.17 L450.3,212.21 L450.8,212.24 L451.3,212.27 L451.8,212.3 L452.3,212.33 L452.8,212.36 L453.3,212.39 L453.8,212.42 L454.3,212.45 L454.8,212.48 L455.3,212.51 L455.8,212.54 L456.3,212.57 L456.8,212.59 L457.3,212.62 L457.8,212.65 L458.3,212.67 L458.8,212.7 L459.3,212.73 L459.8,212.75 L460.3,212.78 L460.8,212.8 L461.3,212.83 L461.8,212.85 L462.3,212.87 L462.8,212.9 L463.3,212.92 L463.8,212.94 L464.3,212.96 L464.8,212.98 L465.3,213 L465.8,213.02 L466.3,213.04 L466.8,213.06 L467.3,213.08 L467.8,213.1 L468.3,213.12 L468.8,213.14 L469.3,213.15 L469.8,213.17 L470.3,213.19 L470.8,213.2 L471.3,213.22 L471.8,213.24 L472.3,213.25 L472.8,213.27 L473.3,213.28 L473.8,213.29 L474.3,213.31 L474.8,213.32 L475.3,213.33 L475.8,213.35 L476.3,213.36 L476.8,213.37 L477.3,213.38 L477.8,213.39 L478.3,213.41 L478.8,213.42 L479.3,213.43 L479.8,213.44 L480.3,213.45 L480.8,213.46 L481.3,213.47 L481.8,213.48 L482.3,213.48 L482.8,213.49 L483.3,213.5 L483.8,213.51 L484.3,213.52 L484.8,213.52 L485.3,213.53 L485.8,213.54 L486.3,213.55 L486.8,213.55 L487.3,213.56 L487.8,213.57 L488.3,213.57 L488.8,213.58 L489.3,213.59 L489.8,213.59 L490.3,213.6 L490.8,213.6 L491.3,213.61 L491.8,213.61 L492.3,213.62 L492.8,213.63 L493.3,213.63 L493.8,213.64 L494.3,213.64 L494.8,213.64 L495.3,213.65 L495.8,213.65 L496.3,213.66 L496.8,213.66 L497.3,213.67 L497.8,213.67 L498.3,213.68 L498.8,213.68 L499.3,213.68 L499.8,213.69 L500.3,213.69 L500.8,213.7 L501.3,213.7 L501.8,213.7 L502.3,213.71 L502.8,213.71 L503.3,213.71 L503.8,213.72 L504.3,213.72 L504.8,213.73 L505.3,213.73 L505.8,213.73 L506.3,213.74 L506.8,213.74 L507.3,213.74 L507.8,213.75 L508.3,213.75 L508.8,213.75 L509.3,213.76 L509.8,213.76 L510.3,213.76 L510.8,213.77 L511.3,213.77 L511.8,213.77 L512.3,213.78 L512.8,213.78 L513.3,213.78 L513.8,213.78 L514.3,213.79 L514.8,213.79 L515.3,213.79 L515.8,213.8 L516.3,213.8 L516.8,213.8 L517.3,213.81 L517.8,213.81 L518.3,213.81 L518.8,213.82 L519.3,213.82 L519.8,213.82 L520.3,213.83 L520.8,213.83 L521.3,213.83 L521.8,213.83 L522.3,213.84 L522.8,213.84 L523.3,213.84 L523.8,213.85 L524.3,213.85 L524.8,213.85 L525.3,213.86 L525.8,213.86 L526.3,213.86 L526.8,213.87 L527.3,213.87 L527.8,213.87 L528.3,213.88 L528.8,213.88 L529.3,213.88 L529.8,213.89 L530.3,213.89 L530.8,213.9 L531.3,213.9 L531.8,213.9 L532.3,213.91 L532.8,213.91 L533.3,213.92 L533.8,213.92 L534.3,213.93 L534.8,213.93 L535.3,213.94 L535.8,213.95 L536.3,213.95 L536.8,213.96 L537.3,213.97 L537.8,213.98 L538.3,213.99 L538.8,214 L539.3,214.01 L539.8,214.02 L540.3,214.03 L540.8,214.05 L541.3,214.06 L541.8,214.08 L542.3,214.1 L542.8,214.12 L543.3,214.14 L543.8,214.16 L544.3,214.19 L544.8,214.22 L545.3,214.24 L545.8,214.28 L546.3,214.31 L546.8,214.35 L547.3,214.38 L547.8,214.43 L548.3,214.47 L548.8,214.52 L549.3,214.57 L549.8,214.62 L550.3,214.68 L550.8,214.74 L551.3,214.81 L551.8,214.87 L552.3,214.94 L552.8,215.02 L553.3,215.1 L553.8,215.18 L554.3,215.27 L554.8,215.36 L555.3,215.46 L555.8,215.55 L556.3,215.66 L556.8,215.76 L557.3,215.87 L557.8,215.98 L558.3,216.1 L558.8,216.22 L559.3,216.34 L559.8,216.47 L560.3,216.6 L560.8,216.73 L561.3,216.86 L561.8,217 L562.3,217.13 L562.8,217.27 L563.3,217.41 L563.8,217.55 L564.3,217.7 L564.8,217.84 L565.3,217.98 L565.8,218.12 L566.3,218.26 L566.8,218.4 L567.3,218.54 L567.8,218.68 L568.3,218.82 L568.8,218.95 L569.3,219.09 L569.8,219.22 L570.3,219.34 L570.8,219.47 L571.3,219.59 L571.8,219.71 L572.3,219.83 L572.8,219.94 L573.3,220.05 L573.8,220.15 L574.3,220.25 L574.8,220.35 L575.3,220.45 L575.8,220.54 L576.3,220.62 L576.8,220.7 L577.3,220.78 L577.8,220.86 L578.3,220.93 L578.8,221 L579.3,221.06 L579.8,221.12 L580.3,221.18 L580.8,221.23 L581.3,221.28 L581.8,221.33 L582.3,221.37 L582.8,221.41 L583.3,221.45 L583.8,221.49 L584.3,221.52 L584.8,221.55 L585.3,221.58 L585.8,221.6 L586.3,221.63 L586.8,221.65 L587.3,221.67 L587.8,221.69 L588.3,221.71 L588.8,221.73 L589.3,221.74 L589.8,221.76 L590.3,221.77 L590.8,221.78 L591.3,221.79 L591.8,221.8 L592.3,221.81 L592.8,221.82 L593.3,221.83 L593.8,221.84 L594.3,221.84 L594.8,221.85 L595.3,221.86 L595.8,221.86 L596.3,221.87 L596.8,221.87 L597.3,221.88 L597.8,221.88 L598.3,221.89 L598.8,221.89 L599.3,221.89 L599.8,221.9 L600.3,221.9 L600.8,221.9 L601.3,221.91 L601.8,221.91 L602.3,221.92 L602.8,221.92 L603.3,221.92 L603.8,221.93 L604.3,221.93 L604.8,221.93 L605.3,221.93 L605.8,221.94 L606.3,221.94 L606.8,221.94 L607.3,221.95 L607.8,221.95 L608.3,221.95 L608.8,221.96 L609.3,221.96 L609.8,221.96 L610.3,221.97 L610.8,221.97 L611.3,221.97 L611.8,221.97 L612.3,221.98 L612.8,221.98 L613.3,221.98 L613.8,221.99 L614.3,221.99 L614.8,221.99 L615.3,222 L615.8,222 L616.3,222 L616.8,222 L617.3,222.01 L617.8,222.01 L618.3,222.01 L618.8,222.02 L619.3,222.02 L619.8,222.02 L620.3,222.03 L620.8,222.03 L621.3,222.03 L621.8,222.03 L622.3,222.04 L622.8,222.04 L623.3,222.04 L623.8,222.05 L624.3,222.05 L624.8,222.05 L625.3,222.06 L625.8,222.06 L626.3,222.06 L626.8,222.06 L627.3,222.07 L627.8,222.07 L628.3,222.07 L628.8,222.08 L629.3,222.08 L629.8,222.08 L630.3,222.09 L630.8,222.09 L631.3,222.09 L631.8,222.09 L632.3,222.1 L632.8,222.1 L633.3,222.1 L633.8,222.11 L634.3,222.11 L634.8,222.11 L635.3,222.12 L635.8,222.12 L636.3,222.12 L636.8,222.12 L637.3,222.13 L637.8,222.13 L638.3,222.13 L638.8,222.14 L639.3,222.14 L639.8,222.14 L640.3,222.15 L640.8,222.15 L641.3,222.15 L641.8,222.15 L642.3,222.16 L642.8,222.16 L643.3,222.16 L643.8,222.17 L644.3,222.17 L644.8,222.17 L645.3,222.18 L645.8,222.18 L646.3,222.18" fill="none" stroke="#7cc4c4" stroke-width="1.2"/>
<g fill="none" stroke="#d8d8d8" stroke-width="0.6"><circle cx="47" cy="505.33" r="2.6"/><circle cx="51" cy="504.63" r="2.6"/><circle cx="55" cy="505.85" r="2.6"/><circle cx="59" cy="506.55" r="2.6"/><circle cx="63" cy="507.26" r="2.6"/><circle cx="67" cy="505.83" r="2.6"/><circle cx="71" cy="504.74" r="2.6"/><circle cx="75" cy="504" r="2.6"/><circle cx="79" cy="505.15" r="2.6"/><circle cx="83" cy="505.17" r="2.6"/><circle cx="87" cy="502.02" r="2.6"/><circle cx="91" cy="498.05" r="2.6"/><circle cx="95" cy="495.41" r="2.6"/><circle cx="99" cy="494.54" r="2.6"/><circle cx="103" cy="487.86" r="2.6"/><circle cx="107" cy="479.43" r="2.6"/><circle cx="111" cy="474.27" r="2.6"/><circle cx="115" cy="465.02" r="2.6"/><circle cx="119" cy="457.22" r="2.6"/><circle cx="123" cy="448.89" r="2.6"/><circle cx="127" cy="440.49" r="2.6"/><circle cx="131" cy="434.69" r="2.6"/><circle cx="135" cy="427.68" r="2.6"/><circle cx="139" cy="421.94" r="2.6"/><circle cx="143" cy="419.03" r="2.6"/><circle cx="147" cy="416.06" r="2.6"/><circle cx="151" cy="409.76" r="2.6"/><circle cx="155" cy="407.7" r="2.6"/><circle cx="159" cy="402.27" r="2.6"/><circle cx="163" cy="397.61" r="2.6"/><circle cx="167" cy="389.63" r="2.6"/><circle cx="171" cy="384" r="2.6"/><circle cx="175" cy="376.93" r="2.6"/><circle cx="179" cy="370.87" r="2.6"/><circle cx="183" cy="366.65" r="2.6"/><circle cx="187" cy="367.51" r="2.6"/><circle cx="191" cy="370.67" r="2.6"/><circle cx="195" cy="378.16" r="2.6"/><circle cx="199" cy="391" r="2.6"/><circle cx="203" cy="402.51" r="2.6"/><circle cx="207" cy="419.45" r="2.6"/><circle cx="211" cy="433.19" r="2.6"/><circle cx="215" cy="443.52" r="2.6"/><circle cx="219" cy="458.56" r="2.6"/><circle cx="223" cy="467.63" r="2.6"/><circle cx="227" cy="477.96" r="2.6"/><circle cx="231" cy="485.23" r="2.6"/><circle cx="235" cy="488.46" r="2.6"/><circle cx="239" cy="494.86" r="2.6"/><circle cx="243" cy="498.01" r="2.6"/><circle cx="247" cy="501.77" r="2.6"/><circle cx="251" cy="500.83" r="2.6"/><circle cx="255" cy="504.28" r="2.6"/><circle cx="259" cy="502.89" r="2.6"/><circle cx="263" cy="504.4" r="2.6"/><circle cx="267" cy="504.22" r="2.6"/><circle cx="271" cy="507.3" r="2.6"/><circle cx="275" cy="506.51" r="2.6"/><circle cx="279" cy="508.96" r="2.6"/><circle cx="283" cy="506.99" r="2.6"/><circle cx="287" cy="507.39" r="2.6"/><circle cx="291" cy="507.53" r="2.6"/><circle cx="295" cy="505.91" r="2.6"/><circle cx="299" cy="506.67" r="2.6"/><circle cx="303" cy="508.47" r="2.6"/><circle cx="307" cy="506.47" r="2.6"/><circle cx="311" cy="507.25" r="2.6"/><circle cx="315" cy="507.08" r="2.6"/><circle cx="319" cy="507.9" r="2.6"/><circle cx="323" cy="506.8" r="2.6"/></g>
<path d="M45.7,506.71 L46.2,506.7 L46.7,506.69 L47.2,506.69 L47.7,506.68 L48.2,506.67 L48.7,506.66 L49.2,506.66 L49.7,506.65 L50.2,506.64 L50.7,506.63 L51.2,506.62 L51.7,506.61 L52.2,506.6 L52.7,506.59 L53.2,506.58 L53.7,506.57 L54.2,506.56 L54.7,506.55 L55.2,506.54 L55.7,506.53 L56.2,506.52 L56.7,506.5 L57.2,506.49 L57.7,506.48 L58.2,506.46 L58.7,506.45 L59.2,506.44 L59.7,506.42 L60.2,506.4 L60.7,506.39 L61.2,506.37 L61.7,506.35 L62.2,506.33 L62.7,506.31 L63.2,506.29 L63.7,506.27 L64.2,506.25 L64.7,506.23 L65.2,506.2 L65.7,506.17 L66.2,506.15 L66.7,506.12 L67.2,506.09 L67.7,506.06 L68.2,506.02 L68.7,505.99 L69.2,505.95 L69.7,505.91 L70.2,505.87 L70.7,505.83 L71.2,505.78 L71.7,505.73 L72.2,505.68 L72.7,505.63 L73.2,505.57 L73.7,505.51 L74.2,505.45 L74.7,505.39 L75.2,505.32 L75.7,505.24 L76.2,505.17 L76.7,505.08 L77.2,505 L77.7,504.91 L78.2,504.81 L78.7,504.71 L79.2,504.61 L79.7,504.5 L80.2,504.38 L80.7,504.26 L81.2,504.13 L81.7,504 L82.2,503.85 L82.7,503.71 L83.2,503.55 L83.7,503.39 L84.2,503.21 L84.7,503.03 L85.2,502.85 L85.7,502.65 L86.2,502.44 L86.7,502.23 L87.2,502 L87.7,501.76 L88.2,501.52 L88.7,501.26 L89.2,500.99 L89.7,500.71 L90.2,500.42 L90.7,500.12 L91.2,499.8 L91.7,499.47 L92.2,499.13 L92.7,498.78 L93.2,498.41 L93.7,498.02 L94.2,497.63 L94.7,497.21 L95.2,496.79 L95.7,496.34 L96.2,495.89 L96.7,495.41 L97.2,494.92 L97.7,494.42 L98.2,493.89 L98.7,493.35 L99.2,492.8 L99.7,492.23 L100.2,491.64 L100.7,491.03 L101.2,490.41 L101.7,489.77 L102.2,489.11 L102.7,488.43 L103.2,487.74 L103.7,487.03 L104.2,486.3 L104.7,485.55 L105.2,484.79 L105.7,484.01 L106.2,483.21 L106.7,482.4 L107.2,481.57 L107.7,480.73 L108.2,479.87 L108.7,478.99 L109.2,478.1 L109.7,477.19 L110.2,476.27 L110.7,475.34 L111.2,474.39 L111.7,473.43 L112.2,472.46 L112.7,471.48 L113.2,470.48 L113.7,469.48 L114.2,468.46 L114.7,467.44 L115.2,466.41 L115.7,465.37 L116.2,464.32 L116.7,463.27 L117.2,462.21 L117.7,461.15 L118.2,460.09 L118.7,459.02 L119.2,457.95 L119.7,456.88 L120.2,455.81 L120.7,454.75 L121.2,453.68 L121.7,452.62 L122.2,451.56 L122.7,450.5 L123.2,449.45 L123.7,448.41 L124.2,447.37 L124.7,446.35 L125.2,445.33 L125.7,444.32 L126.2,443.32 L126.7,442.34 L127.2,441.36 L127.7,440.4 L128.2,439.45 L128.7,438.52 L129.2,437.6 L129.7,436.7 L130.2,435.81 L130.7,434.94 L131.2,434.08 L131.7,433.24 L132.2,432.42 L132.7,431.62 L133.2,430.84 L133.7,430.07 L134.2,429.32 L134.7,428.59 L135.2,427.88 L135.7,427.18 L136.2,426.51 L136.7,425.85 L137.2,425.21 L137.7,424.59 L138.2,423.98 L138.7,423.39 L139.2,422.82 L139.7,422.26 L140.2,421.72 L140.7,421.19 L141.2,420.68 L141.7,420.18 L142.2,419.69 L142.7,419.22 L143.2,418.75 L143.7,418.29 L144.2,417.85 L144.7,417.41 L145.2,416.98 L145.7,416.55 L146.2,416.13 L146.7,415.71 L147.2,415.3 L147.7,414.89 L148.2,414.48 L148.7,414.06 L149.2,413.65 L149.7,413.24 L150.2,412.82 L150.7,412.39 L151.2,411.96 L151.7,411.53 L152.2,411.08 L152.7,410.63 L153.2,410.17 L153.7,409.7 L154.2,409.21 L154.7,408.71 L155.2,408.21 L155.7,407.68 L156.2,407.15 L156.7,406.59 L157.2,406.03 L157.7,405.44 L158.2,404.84 L158.7,404.23 L159.2,403.59 L159.7,402.94 L160.2,402.27 L160.7,401.59 L161.2,400.88 L161.7,400.16 L162.2,399.43 L162.7,398.67 L163.2,397.9 L163.7,397.12 L164.2,396.32 L164.7,395.5 L165.2,394.67 L165.7,393.83 L166.2,392.97 L166.7,392.11 L167.2,391.23 L167.7,390.34 L168.2,389.45 L168.7,388.55 L169.2,387.65 L169.7,386.74 L170.2,385.83 L170.7,384.92 L171.2,384.02 L171.7,383.11 L172.2,382.21 L172.7,381.32 L173.2,380.44 L173.7,379.57 L174.2,378.72 L174.7,377.88 L175.2,377.05 L175.7,376.25 L176.2,375.47 L176.7,374.72 L177.2,373.99 L177.7,373.3 L178.2,372.63 L178.7,372 L179.2,371.41 L179.7,370.85 L180.2,370.34 L180.7,369.86 L181.2,369.44 L181.7,369.06 L182.2,368.73 L182.7,368.45 L183.2,368.23 L183.7,368.06 L184.2,367.94 L184.7,367.89 L185.2,367.89 L185.7,367.95 L186.2,368.07 L186.7,368.26 L187.2,368.5 L187.7,368.81 L188.2,369.18 L188.7,369.61 L189.2,370.11 L189.7,370.67 L190.2,371.29 L190.7,371.97 L191.2,372.72 L191.7,373.52 L192.2,374.38 L192.7,375.3 L193.2,376.28 L193.7,377.31 L194.2,378.4 L194.7,379.54 L195.2,380.73 L195.7,381.97 L196.2,383.26 L196.7,384.59 L197.2,385.97 L197.7,387.38 L198.2,388.84 L198.7,390.34 L199.2,391.87 L199.7,393.43 L200.2,395.03 L200.7,396.65 L201.2,398.3 L201.7,399.98 L202.2,401.68 L202.7,403.4 L203.2,405.14 L203.7,406.9 L204.2,408.67 L204.7,410.45 L205.2,412.24 L205.7,414.04 L206.2,415.85 L206.7,417.66 L207.2,419.47 L207.7,421.28 L208.2,423.09 L208.7,424.9 L209.2,426.7 L209.7,428.49 L210.2,430.28 L210.7,432.06 L211.2,433.82 L211.7,435.58 L212.2,437.32 L212.7,439.04 L213.2,440.75 L213.7,442.44 L214.2,444.12 L214.7,445.77 L215.2,447.41 L215.7,449.02 L216.2,450.62 L216.7,452.19 L217.2,453.73 L217.7,455.26 L218.2,456.76 L218.7,458.23 L219.2,459.68 L219.7,461.1 L220.2,462.5 L220.7,463.87 L221.2,465.22 L221.7,466.54 L222.2,467.83 L222.7,469.09 L223.2,470.33 L223.7,471.53 L224.2,472.71 L224.7,473.87 L225.2,474.99 L225.7,476.09 L226.2,477.16 L226.7,478.2 L227.2,479.22 L227.7,480.21 L228.2,481.17 L228.7,482.1 L229.2,483.01 L229.7,483.9 L230.2,484.75 L230.7,485.58 L231.2,486.39 L231.7,487.17 L232.2,487.93 L232.7,488.66 L233.2,489.37 L233.7,490.06 L234.2,490.72 L234.7,491.37 L235.2,491.99 L235.7,492.59 L236.2,493.17 L236.7,493.72 L237.2,494.26 L237.7,494.78 L238.2,495.28 L238.7,495.76 L239.2,496.23 L239.7,496.67 L240.2,497.1 L240.7,497.52 L241.2,497.91 L241.7,498.29 L242.2,498.66 L242.7,499.01 L243.2,499.35 L243.7,499.68 L244.2,499.99 L244.7,500.29 L245.2,500.57 L245.7,500.85 L246.2,501.11 L246.7,501.37 L247.2,501.61 L247.7,501.84 L248.2,502.06 L248.7,502.28 L249.2,502.48 L249.7,502.67 L250.2,502.86 L250.7,503.04 L251.2,503.21 L251.7,503.38 L252.2,503.53 L252.7,503.68 L253.2,503.83 L253.7,503.97 L254.2,504.1 L254.7,504.22 L255.2,504.34 L255.7,504.46 L256.2,504.57 L256.7,504.68 L257.2,504.78 L257.7,504.88 L258.2,504.97 L258.7,505.06 L259.2,505.15 L259.7,505.23 L260.2,505.31 L260.7,505.39 L261.2,505.46 L261.7,505.53 L262.2,505.6 L262.7,505.66 L263.2,505.72 L263.7,505.78 L264.2,505.84 L264.7,505.9 L265.2,505.95 L265.7,506.01 L266.2,506.06 L266.7,506.1 L267.2,506.15 L267.7,506.2 L268.2,506.24 L268.7,506.28 L269.2,506.32 L269.7,506.36 L270.2,506.4 L270.7,506.44 L271.2,506.48 L271.7,506.51 L272.2,506.55 L272.7,506.58 L273.2,506.61 L273.7,506.65 L274.2,506.68 L274.7,506.71 L275.2,506.74 L275.7,506.77 L276.2,506.79 L276.7,506.82 L277.2,506.85 L277.7,506.87 L278.2,506.9 L278.7,506.92 L279.2,506.95 L279.7,506.97 L280.2,507 L280.7,507.02 L281.2,507.04 L281.7,507.07 L282.2,507.09 L282.7,507.11 L283.2,507.13 L283.7,507.15 L284.2,507.17 L284.7,507.19 L285.2,507.21 L285.7,507.23 L286.2,507.25 L286.7,507.27 L287.2,507.29 L287.7,507.3 L288.2,507.32 L288.7,507.34 L289.2,507.36 L289.7,507.37 L290.2,507.39 L290.7,507.41 L291.2,507.42 L291.7,507.44 L292.2,507.46 L292.7,507.47 L293.2,507.49 L293.7,507.5 L294.2,507.52 L294.7,507.53 L295.2,507.55 L295.7,507.56 L296.2,507.58 L296.7,507.59 L297.2,507.6 L297.7,507.62 L298.2,507.63 L298.7,507.64 L299.2,507.66 L299.7,507.67 L300.2,507.68 L300.7,507.7 L301.2,507.71 L301.7,507.72 L302.2,507.73 L302.7,507.75 L303.2,507.76 L303.7,507.77 L304.2,507.78 L304.7,507.79 L305.2,507.8 L305.7,507.81 L306.2,507.83 L306.7,507.84 L307.2,507.85 L307.7,507.86 L308.2,507.87 L308.7,507.88 L309.2,507.89 L309.7,507.9 L310.2,507.91 L310.7,507.92 L311.2,507.93 L311.7,507.94 L312.2,507.95 L312.7,507.96 L313.2,507.97 L313.7,507.98 L314.2,507.99 L314.7,508 L315.2,508 L315.7,508.01 L316.2,508.02 L316.7,508.03 L317.2,508.04 L317.7,508.05 L318.2,508.06 L318.7,508.07 L319.2,508.07 L319.7,508.08 L320.2,508.09 L320.7,508.1 L321.2,508.11 L321.7,508.11 L322.2,508.12 L322.7,508.13 L323.2,508.14 L323.7,508.14 L324.2,508.15" fill="none" stroke="#e02a3c" stroke-width="1.6"/>
<path d="M45.7,508.51 L46.2,508.51 L46.7,508.5 L47.2,508.49 L47.7,508.49 L48.2,508.48 L48.7,508.47 L49.2,508.47 L49.7,508.46 L50.2,508.45 L50.7,508.44 L51.2,508.44 L51.7,508.43 L52.2,508.42 L52.7,508.41 L53.2,508.41 L53.7,508.4 L54.2,508.39 L54.7,508.38 L55.2,508.37 L55.7,508.37 L56.2,508.36 L56.7,508.35 L57.2,508.34 L57.7,508.33 L58.2,508.32 L58.7,508.31 L59.2,508.3 L59.7,508.3 L60.2,508.29 L60.7,508.28 L61.2,508.27 L61.7,508.26 L62.2,508.25 L62.7,508.24 L63.2,508.23 L63.7,508.22 L64.2,508.21 L64.7,508.2 L65.2,508.19 L65.7,508.18 L66.2,508.17 L66.7,508.16 L67.2,508.15 L67.7,508.14 L68.2,508.13 L68.7,508.11 L69.2,508.1 L69.7,508.09 L70.2,508.08 L70.7,508.07 L71.2,508.06 L71.7,508.05 L72.2,508.03 L72.7,508.02 L73.2,508.01 L73.7,508 L74.2,507.98 L74.7,507.97 L75.2,507.96 L75.7,507.94 L76.2,507.93 L76.7,507.92 L77.2,507.9 L77.7,507.89 L78.2,507.88 L78.7,507.86 L79.2,507.85 L79.7,507.83 L80.2,507.82 L80.7,507.8 L81.2,507.79 L81.7,507.77 L82.2,507.76 L82.7,507.74 L83.2,507.72 L83.7,507.71 L84.2,507.69 L84.7,507.67 L85.2,507.66 L85.7,507.64 L86.2,507.62 L86.7,507.6 L87.2,507.59 L87.7,507.57 L88.2,507.55 L88.7,507.53 L89.2,507.51 L89.7,507.49 L90.2,507.47 L90.7,507.45 L91.2,507.43 L91.7,507.41 L92.2,507.39 L92.7,507.37 L93.2,507.34 L93.7,507.32 L94.2,507.3 L94.7,507.27 L95.2,507.25 L95.7,507.22 L96.2,507.2 L96.7,507.17 L97.2,507.15 L97.7,507.12 L98.2,507.09 L98.7,507.07 L99.2,507.04 L99.7,507.01 L100.2,506.98 L100.7,506.95 L101.2,506.91 L101.7,506.88 L102.2,506.85 L102.7,506.81 L103.2,506.78 L103.7,506.74 L104.2,506.7 L104.7,506.66 L105.2,506.62 L105.7,506.58 L106.2,506.54 L106.7,506.5 L107.2,506.45 L107.7,506.4 L108.2,506.36 L108.7,506.31 L109.2,506.25 L109.7,506.2 L110.2,506.14 L110.7,506.08 L111.2,506.02 L111.7,505.96 L112.2,505.9 L112.7,505.83 L113.2,505.76 L113.7,505.69 L114.2,505.61 L114.7,505.53 L115.2,505.45 L115.7,505.36 L116.2,505.27 L116.7,505.18 L117.2,505.08 L117.7,504.98 L118.2,504.87 L118.7,504.76 L119.2,504.64 L119.7,504.52 L120.2,504.4 L120.7,504.27 L121.2,504.13 L121.7,503.98 L122.2,503.83 L122.7,503.68 L123.2,503.51 L123.7,503.34 L124.2,503.16 L124.7,502.98 L125.2,502.78 L125.7,502.58 L126.2,502.36 L126.7,502.14 L127.2,501.91 L127.7,501.67 L128.2,501.41 L128.7,501.15 L129.2,500.88 L129.7,500.59 L130.2,500.29 L130.7,499.98 L131.2,499.65 L131.7,499.32 L132.2,498.96 L132.7,498.6 L133.2,498.21 L133.7,497.82 L134.2,497.4 L134.7,496.98 L135.2,496.53 L135.7,496.07 L136.2,495.58 L136.7,495.08 L137.2,494.57 L137.7,494.03 L138.2,493.47 L138.7,492.89 L139.2,492.29 L139.7,491.67 L140.2,491.03 L140.7,490.37 L141.2,489.68 L141.7,488.97 L142.2,488.24 L142.7,487.48 L143.2,486.7 L143.7,485.9 L144.2,485.07 L144.7,484.21 L145.2,483.33 L145.7,482.43 L146.2,481.49 L146.7,480.53 L147.2,479.55 L147.7,478.54 L148.2,477.5 L148.7,476.43 L149.2,475.34 L149.7,474.22 L150.2,473.07 L150.7,471.89 L151.2,470.69 L151.7,469.46 L152.2,468.21 L152.7,466.92 L153.2,465.61 L153.7,464.28 L154.2,462.92 L154.7,461.53 L155.2,460.12 L155.7,458.68 L156.2,457.22 L156.7,455.74 L157.2,454.23 L157.7,452.71 L158.2,451.15 L158.7,449.58 L159.2,447.99 L159.7,446.38 L160.2,444.76 L160.7,443.11 L161.2,441.45 L161.7,439.78 L162.2,438.09 L162.7,436.39 L163.2,434.68 L163.7,432.95 L164.2,431.22 L164.7,429.49 L165.2,427.74 L165.7,426 L166.2,424.25 L166.7,422.5 L167.2,420.75 L167.7,419.01 L168.2,417.27 L168.7,415.53 L169.2,413.81 L169.7,412.1 L170.2,410.39 L170.7,408.71 L171.2,407.04 L171.7,405.39 L172.2,403.76 L172.7,402.15 L173.2,400.57 L173.7,399.01 L174.2,397.49 L174.7,396 L175.2,394.54 L175.7,393.12 L176.2,391.74 L176.7,390.4 L177.2,389.1 L177.7,387.85 L178.2,386.65 L178.7,385.5 L179.2,384.4 L179.7,383.35 L180.2,382.36 L180.7,381.43 L181.2,380.57 L181.7,379.76 L182.2,379.02 L182.7,378.34 L183.2,377.73 L183.7,377.19 L184.2,376.72 L184.7,376.32 L185.2,375.99 L185.7,375.73 L186.2,375.55 L186.7,375.44 L187.2,375.4 L187.7,375.44 L188.2,375.55 L188.7,375.73 L189.2,375.99 L189.7,376.32 L190.2,376.72 L190.7,377.19 L191.2,377.73 L191.7,378.34 L192.2,379.02 L192.7,379.76 L193.2,380.57 L193.7,381.43 L194.2,382.36 L194.7,383.35 L195.2,384.4 L195.7,385.5 L196.2,386.65 L196.7,387.85 L197.2,389.1 L197.7,390.4 L198.2,391.74 L198.7,393.12 L199.2,394.54 L199.7,396 L200.2,397.49 L200.7,399.01 L201.2,400.57 L201.7,402.15 L202.2,403.76 L202.7,405.39 L203.2,407.04 L203.7,408.71 L204.2,410.39 L204.7,412.1 L205.2,413.81 L205.7,415.53 L206.2,417.27 L206.7,419.01 L207.2,420.75 L207.7,422.5 L208.2,424.25 L208.7,426 L209.2,427.74 L209.7,429.49 L210.2,431.22 L210.7,432.95 L211.2,434.68 L211.7,436.39 L212.2,438.09 L212.7,439.78 L213.2,441.45 L213.7,443.11 L214.2,444.76 L214.7,446.38 L215.2,447.99 L215.7,449.58 L216.2,451.15 L216.7,452.71 L217.2,454.23 L217.7,455.74 L218.2,457.22 L218.7,458.68 L219.2,460.12 L219.7,461.53 L220.2,462.92 L220.7,464.28 L221.2,465.61 L221.7,466.92 L222.2,468.21 L222.7,469.46 L223.2,470.69 L223.7,471.89 L224.2,473.07 L224.7,474.22 L225.2,475.34 L225.7,476.43 L226.2,477.5 L226.7,478.54 L227.2,479.55 L227.7,480.53 L228.2,481.49 L228.7,482.43 L229.2,483.33 L229.7,484.21 L230.2,485.07 L230.7,485.9 L231.2,486.7 L231.7,487.48 L232.2,488.24 L232.7,488.97 L233.2,489.68 L233.7,490.37 L234.2,491.03 L234.7,491.67 L235.2,492.29 L235.7,492.89 L236.2,493.47 L236.7,494.03 L237.2,494.57 L237.7,495.08 L238.2,495.58 L238.7,496.07 L239.2,496.53 L239.7,496.98 L240.2,497.4 L240.7,497.82 L241.2,498.21 L241.7,498.6 L242.2,498.96 L242.7,499.32 L243.2,499.65 L243.7,499.98 L244.2,500.29 L244.7,500.59 L245.2,500.88 L245.7,501.15 L246.2,501.41 L246.7,501.67 L247.2,501.91 L247.7,502.14 L248.2,502.36 L248.7,502.58 L249.2,502.78 L249.7,502.98 L250.2,503.16 L250.7,503.34 L251.2,503.51 L251.7,503.68 L252.2,503.83 L252.7,503.98 L253.2,504.13 L253.7,504.27 L254.2,504.4 L254.7,504.52 L255.2,504.64 L255.7,504.76 L256.2,504.87 L256.7,504.98 L257.2,505.08 L257.7,505.18 L258.2,505.27 L258.7,505.36 L259.2,505.45 L259.7,505.53 L260.2,505.61 L260.7,505.69 L261.2,505.76 L261.7,505.83 L262.2,505.9 L262.7,505.96 L263.2,506.02 L263.7,506.08 L264.2,506.14 L264.7,506.2 L265.2,506.25 L265.7,506.31 L266.2,506.36 L266.7,506.4 L267.2,506.45 L267.7,506.5 L268.2,506.54 L268.7,506.58 L269.2,506.62 L269.7,506.66 L270.2,506.7 L270.7,506.74 L271.2,506.78 L271.7,506.81 L272.2,506.85 L272.7,506.88 L273.2,506.91 L273.7,506.95 L274.2,506.98 L274.7,507.01 L275.2,507.04 L275.7,507.07 L276.2,507.09 L276.7,507.12 L277.2,507.15 L277.7,507.17 L278.2,507.2 L278.7,507.22 L279.2,507.25 L279.7,507.27 L280.2,507.3 L280.7,507.32 L281.2,507.34 L281.7,507.37 L282.2,507.39 L282.7,507.41 L283.2,507.43 L283.7,507.45 L284.2,507.47 L284.7,507.49 L285.2,507.51 L285.7,507.53 L286.2,507.55 L286.7,507.57 L287.2,507.59 L287.7,507.6 L288.2,507.62 L288.7,507.64 L289.2,507.66 L289.7,507.67 L290.2,507.69 L290.7,507.71 L291.2,507.72 L291.7,507.74 L292.2,507.76 L292.7,507.77 L293.2,507.79 L293.7,507.8 L294.2,507.82 L294.7,507.83 L295.2,507.85 L295.7,507.86 L296.2,507.88 L296.7,507.89 L297.2,507.9 L297.7,507.92 L298.2,507.93 L298.7,507.94 L299.2,507.96 L299.7,507.97 L300.2,507.98 L300.7,508 L301.2,508.01 L301.7,508.02 L302.2,508.03 L302.7,508.05 L303.2,508.06 L303.7,508.07 L304.2,508.08 L304.7,508.09 L305.2,508.1 L305.7,508.11 L306.2,508.13 L306.7,508.14 L307.2,508.15 L307.7,508.16 L308.2,508.17 L308.7,508.18 L309.2,508.19 L309.7,508.2 L310.2,508.21 L310.7,508.22 L311.2,508.23 L311.7,508.24 L312.2,508.25 L312.7,508.26 L313.2,508.27 L313.7,508.28 L314.2,508.29 L314.7,508.3 L315.2,508.3 L315.7,508.31 L316.2,508.32 L316.7,508.33 L317.2,508.34 L317.7,508.35 L318.2,508.36 L318.7,508.37 L319.2,508.37 L319.7,508.38 L320.2,508.39 L320.7,508.4 L321.2,508.41 L321.7,508.41 L322.2,508.42 L322.7,508.43 L323.2,508.44 L323.7,508.44 L324.2,508.45 L324.2,509.5 L323.7,509.5 L323.2,509.5 L322.7,509.5 L322.2,509.5 L321.7,509.5 L321.2,509.5 L320.7,509.5 L320.2,509.5 L319.7,509.5 L319.2,509.5 L318.7,509.5 L318.2,509.5 L317.7,509.5 L317.2,509.5 L316.7,509.5 L316.2,509.5 L315.7,509.5 L315.2,509.5 L314.7,509.5 L314.2,509.5 L313.7,509.5 L313.2,509.5 L312.7,509.5 L312.2,509.5 L311.7,509.5 L311.2,509.5 L310.7,509.5 L310.2,509.5 L309.7,509.5 L309.2,509.5 L308.7,509.5 L308.2,509.5 L307.7,509.5 L307.2,509.5 L306.7,509.5 L306.2,509.5 L305.7,509.5 L305.2,509.5 L304.7,509.5 L304.2,509.5 L303.7,509.5 L303.2,509.5 L302.7,509.5 L302.2,509.5 L301.7,509.5 L301.2,509.5 L300.7,509.5 L300.2,509.5 L299.7,509.5 L299.2,509.5 L298.7,509.5 L298.2,509.5 L297.7,509.5 L297.2,509.5 L296.7,509.5 L296.2,509.5 L295.7,509.5 L295.2,509.5 L294.7,509.5 L294.2,509.5 L293.7,509.5 L293.2,509.5 L292.7,509.5 L292.2,509.5 L291.7,509.5 L291.2,509.5 L290.7,509.5 L290.2,509.5 L289.7,509.5 L289.2,509.5 L288.7,509.5 L288.2,509.5 L287.7,509.5 L287.2,509.5 L286.7,509.5 L286.2,509.5 L285.7,509.5 L285.2,509.5 L284.7,509.5 L284.2,509.5 L283.7,509.5 L283.2,509.5 L282.7,509.5 L282.2,509.5 L281.7,509.5 L281.2,509.5 L280.7,509.5 L280.2,509.5 L279.7,509.5 L279.2,509.5 L278.7,509.5 L278.2,509.5 L277.7,509.5 L277.2,509.5 L276.7,509.5 L276.2,509.5 L275.7,509.5 L275.2,509.5 L274.7,509.5 L274.2,509.5 L273.7,509.5 L273.2,509.5 L272.7,509.5 L272.2,509.5 L271.7,509.5 L271.2,509.5 L270.7,509.5 L270.2,509.5 L269.7,509.5 L269.2,509.5 L268.7,509.5 L268.2,509.5 L267.7,509.5 L267.2,509.5 L266.7,509.5 L266.2,509.5 L265.7,509.5 L265.2,509.5 L264.7,509.5 L264.2,509.5 L263.7,509.5 L263.2,509.5 L262.7,509.5 L262.2,509.5 L261.7,509.5 L261.2,509.5 L260.7,509.5 L260.2,509.5 L259.7,509.5 L259.2,509.5 L258.7,509.5 L258.2,509.5 L257.7,509.5 L257.2,509.5 L256.7,509.5 L256.2,509.5 L255.7,509.5 L255.2,509.5 L254.7,509.5 L254.2,509.5 L253.7,509.5 L253.2,509.5 L252.7,509.5 L252.2,509.5 L251.7,509.5 L251.2,509.5 L250.7,509.5 L250.2,509.5 L249.7,509.5 L249.2,509.5 L248.7,509.5 L248.2,509.5 L247.7,509.5 L247.2,509.5 L246.7,509.5 L246.2,509.5 L245.7,509.5 L245.2,509.5 L244.7,509.5 L244.2,509.5 L243.7,509.5 L243.2,509.5 L242.7,509.5 L242.2,509.5 L241.7,509.5 L241.2,509.5 L240.7,509.5 L240.2,509.5 L239.7,509.5 L239.2,509.5 L238.7,509.5 L238.2,509.5 L237.7,509.5 L237.2,509.5 L236.7,509.5 L236.2,509.5 L235.7,509.5 L235.2,509.5 L234.7,509.5 L234.2,509.5 L233.7,509.5 L233.2,509.5 L232.7,509.5 L232.2,509.5 L231.7,509.5 L231.2,509.5 L230.7,509.5 L230.2,509.5 L229.7,509.5 L229.2,509.5 L228.7,509.5 L228.2,509.5 L227.7,509.5 L227.2,509.5 L226.7,509.5 L226.2,509.5 L225.7,509.5 L225.2,509.5 L224.7,509.5 L224.2,509.5 L223.7,509.5 L223.2,509.5 L222.7,509.5 L222.2,509.5 L221.7,509.5 L221.2,509.5 L220.7,509.5 L220.2,509.5 L219.7,509.5 L219.2,509.5 L218.7,509.5 L218.2,509.5 L217.7,509.5 L217.2,509.5 L216.7,509.5 L216.2,509.5 L215.7,509.5 L215.2,509.5 L214.7,509.5 L214.2,509.5 L213.7,509.5 L213.2,509.5 L212.7,509.5 L212.2,509.5 L211.7,509.5 L211.2,509.5 L210.7,509.5 L210.2,509.5 L209.7,509.5 L209.2,509.5 L208.7,509.5 L208.2,509.5 L207.7,509.5 L207.2,509.5 L206.7,509.5 L206.2,509.5 L205.7,509.5 L205.2,509.5 L204.7,509.5 L204.2,509.5 L203.7,509.5 L203.2,509.5 L202.7,509.5 L202.2,509.5 L201.7,509.5 L201.2,509.5 L200.7,509.5 L200.2,509.5 L199.7,509.5 L199.2,509.5 L198.7,509.5 L198.2,509.5 L197.7,509.5 L197.2,509.5 L196.7,509.5 L196.2,509.5 L195.7,509.5 L195.2,509.5 L194.7,509.5 L194.2,509.5 L193.7,509.5 L193.2,509.5 L192.7,509.5 L192.2,509.5 L191.7,509.5 L191.2,509.5 L190.7,509.5 L190.2,509.5 L189.7,509.5 L189.2,509.5 L188.7,509.5 L188.2,509.5 L187.7,509.5 L187.2,509.5 L186.7,509.5 L186.2,509.5 L185.7,509.5 L185.2,509.5 L184.7,509.5 L184.2,509.5 L183.7,509.5 L183.2,509.5 L182.7,509.5 L182.2,509.5 L181.7,509.5 L181.2,509.5 L180.7,509.5 L180.2,509.5 L179.7,509.5 L179.2,509.5 L178.7,509.5 L178.2,509.5 L177.7,509.5 L177.2,509.5 L176.7,509.5 L176.2,509.5 L175.7,509.5 L175.2,509.5 L174.7,509.5 L174.2,509.5 L173.7,509.5 L173.2,509.5 L172.7,509.5 L172.2,509.5 L171.7,509.5 L171.2,509.5 L170.7,509.5 L170.2,509.5 L169.7,509.5 L169.2,509.5 L168.7,509.5 L168.2,509.5 L167.7,509.5 L167.2,509.5 L166.7,509.5 L166.2,509.5 L165.7,509.5 L165.2,509.5 L164.7,509.5 L164.2,509.5 L163.7,509.5 L163.2,509.5 L162.7,509.5 L162.2,509.5 L161.7,509.5 L161.2,509.5 L160.7,509.5 L160.2,509.5 L159.7,509.5 L159.2,509.5 L158.7,509.5 L158.2,509.5 L157.7,509.5 L157.2,509.5 L156.7,509.5 L156.2,509.5 L155.7,509.5 L155.2,509.5 L154.7,509.5 L154.2,509.5 L153.7,509.5 L153.2,509.5 L152.7,509.5 L152.2,509.5 L151.7,509.5 L151.2,509.5 L150.7,509.5 L150.2,509.5 L149.7,509.5 L149.2,509.5 L148.7,509.5 L148.2,509.5 L147.7,509.5 L147.2,509.5 L146.7,509.5 L146.2,509.5 L145.7,509.5 L145.2,509.5 L144.7,509.5 L144.2,509.5 L143.7,509.5 L143.2,509.5 L142.7,509.5 L142.2,509.5 L141.7,509.5 L141.2,509.5 L140.7,509.5 L140.2,509.5 L139.7,509.5 L139.2,509.5 L138.7,509.5 L138.2,509.5 L137.7,509.5 L137.2,509.5 L136.7,509.5 L136.2,509.5 L135.7,509.5 L135.2,509.5 L134.7,509.5 L134.2,509.5 L133.7,509.5 L133.2,509.5 L132.7,509.5 L132.2,509.5 L131.7,509.5 L131.2,509.5 L130.7,509.5 L130.2,509.5 L129.7,509.5 L129.2,509.5 L128.7,509.5 L128.2,509.5 L127.7,509.5 L127.2,509.5 L126.7,509.5 L126.2,509.5 L125.7,509.5 L125.2,509.5 L124.7,509.5 L124.2,509.5 L123.7,509.5 L123.2,509.5 L122.7,509.5 L122.2,509.5 L121.7,509.5 L121.2,509.5 L120.7,509.5 L120.2,509.5 L119.7,509.5 L119.2,509.5 L118.7,509.5 L118.2,509.5 L117.7,509.5 L117.2,509.5 L116.7,509.5 L116.2,509.5 L115.7,509.5 L115.2,509.5 L114.7,509.5 L114.2,509.5 L113.7,509.5 L113.2,509.5 L112.7,509.5 L112.2,509.5 L111.7,509.5 L111.2,509.5 L110.7,509.5 L110.2,509.5 L109.7,509.5 L109.2,509.5 L108.7,509.5 L108.2,509.5 L107.7,509.5 L107.2,509.5 L106.7,509.5 L106.2,509.5 L105.7,509.5 L105.2,509.5 L104.7,509.5 L104.2,509.5 L103.7,509.5 L103.2,509.5 L102.7,509.5 L102.2,509.5 L101.7,509.5 L101.2,509.5 L100.7,509.5 L100.2,509.5 L99.7,509.5 L99.2,509.5 L98.7,509.5 L98.2,509.5 L97.7,509.5 L97.2,509.5 L96.7,509.5 L96.2,509.5 L95.7,509.5 L95.2,509.5 L94.7,509.5 L94.2,509.5 L93.7,509.5 L93.2,509.5 L92.7,509.5 L92.2,509.5 L91.7,509.5 L91.2,509.5 L90.7,509.5 L90.2,509.5 L89.7,509.5 L89.2,509.5 L88.7,509.5 L88.2,509.5 L87.7,509.5 L87.2,509.5 L86.7,509.5 L86.2,509.5 L85.7,509.5 L85.2,509.5 L84.7,509.5 L84.2,509.5 L83.7,509.5 L83.2,509.5 L82.7,509.5 L82.2,509.5 L81.7,509.5 L81.2,509.5 L80.7,509.5 L80.2,509.5 L79.7,509.5 L79.2,509.5 L78.7,509.5 L78.2,509.5 L77.7,509.5 L77.2,509.5 L76.7,509.5 L76.2,509.5 L75.7,509.5 L75.2,509.5 L74.7,509.5 L74.2,509.5 L73.7,509.5 L73.2,509.5 L72.7,509.5 L72.2,509.5 L71.7,509.5 L71.2,509.5 L70.7,509.5 L70.2,509.5 L69.7,509.5 L69.2,509.5 L68.7,509.5 L68.2,509.5 L67.7,509.5 L67.2,509.5 L66.7,509.5 L66.2,509.5 L65.7,509.5 L65.2,509.5 L64.7,509.5 L64.2,509.5 L63.7,509.5 L63.2,509.5 L62.7,509.5 L62.2,509.5 L61.7,509.5 L61.2,509.5 L60.7,509.5 L60.2,509.5 L59.7,509.5 L59.2,509.5 L58.7,509.5 L58.2,509.5 L57.7,509.5 L57.2,509.5 L56.7,509.5 L56.2,509.5 L55.7,509.5 L55.2,509.5 L54.7,509.5 L54.2,509.5 L53.7,509.5 L53.2,509.5 L52.7,509.5 L52.2,509.5 L51.7,509.5 L51.2,509.5 L50.7,509.5 L50.2,509.5 L49.7,509.5 L49.2,509.5 L48.7,509.5 L48.2,509.5 L47.7,509.5 L47.2,509.5 L46.7,509.5 L46.2,509.5 L45.7,509.5 Z" fill="url(#gr)"/>
<path d="M68.2,509.2 L68.7,509.17 L69.2,509.15 L69.7,509.12 L70.2,509.09 L70.7,509.06 L71.2,509.02 L71.7,508.99 L72.2,508.95 L72.7,508.91 L73.2,508.86 L73.7,508.82 L74.2,508.77 L74.7,508.71 L75.2,508.66 L75.7,508.6 L76.2,508.53 L76.7,508.47 L77.2,508.39 L77.7,508.32 L78.2,508.24 L78.7,508.15 L79.2,508.06 L79.7,507.97 L80.2,507.86 L80.7,507.76 L81.2,507.64 L81.7,507.52 L82.2,507.4 L82.7,507.26 L83.2,507.12 L83.7,506.98 L84.2,506.82 L84.7,506.66 L85.2,506.49 L85.7,506.31 L86.2,506.12 L86.7,505.92 L87.2,505.71 L87.7,505.5 L88.2,505.27 L88.7,505.03 L89.2,504.78 L89.7,504.52 L90.2,504.25 L90.7,503.97 L91.2,503.67 L91.7,503.36 L92.2,503.04 L92.7,502.71 L93.2,502.36 L93.7,502 L94.2,501.63 L94.7,501.24 L95.2,500.84 L95.7,500.42 L96.2,499.99 L96.7,499.54 L97.2,499.07 L97.7,498.6 L98.2,498.1 L98.7,497.59 L99.2,497.06 L99.7,496.52 L100.2,495.96 L100.7,495.38 L101.2,494.79 L101.7,494.18 L102.2,493.56 L102.7,492.92 L103.2,492.26 L103.7,491.59 L104.2,490.89 L104.7,490.19 L105.2,489.47 L105.7,488.73 L106.2,487.97 L106.7,487.2 L107.2,486.42 L107.7,485.62 L108.2,484.81 L108.7,483.98 L109.2,483.15 L109.7,482.29 L110.2,481.43 L110.7,480.55 L111.2,479.67 L111.7,478.77 L112.2,477.86 L112.7,476.95 L113.2,476.02 L113.7,475.09 L114.2,474.15 L114.7,473.21 L115.2,472.26 L115.7,471.31 L116.2,470.35 L116.7,469.39 L117.2,468.43 L117.7,467.47 L118.2,466.52 L118.7,465.56 L119.2,464.61 L119.7,463.66 L120.2,462.72 L120.7,461.78 L121.2,460.85 L121.7,459.93 L122.2,459.02 L122.7,458.13 L123.2,457.24 L123.7,456.37 L124.2,455.51 L124.7,454.67 L125.2,453.85 L125.7,453.04 L126.2,452.26 L126.7,451.5 L127.2,450.75 L127.7,450.03 L128.2,449.34 L128.7,448.67 L129.2,448.02 L129.7,447.41 L130.2,446.82 L130.7,446.26 L131.2,445.73 L131.7,445.23 L132.2,444.76 L132.7,444.32 L133.2,443.92 L133.7,443.55 L134.2,443.22 L134.7,442.91 L135.2,442.65 L135.7,442.42 L136.2,442.22 L136.7,442.07 L137.2,441.94 L137.7,441.86 L138.2,441.81 L138.7,441.8 L139.2,441.83 L139.7,441.89 L140.2,441.99 L140.7,442.13 L141.2,442.3 L141.7,442.51 L142.2,442.75 L142.7,443.03 L143.2,443.35 L143.7,443.69 L144.2,444.08 L144.7,444.49 L145.2,444.94 L145.7,445.42 L146.2,445.94 L146.7,446.48 L147.2,447.05 L147.7,447.65 L148.2,448.28 L148.7,448.93 L149.2,449.61 L149.7,450.32 L150.2,451.05 L150.7,451.8 L151.2,452.57 L151.7,453.36 L152.2,454.18 L152.7,455.01 L153.2,455.85 L153.7,456.72 L154.2,457.59 L154.7,458.48 L155.2,459.39 L155.7,460.3 L156.2,461.22 L156.7,462.15 L157.2,463.09 L157.7,464.04 L158.2,464.99 L158.7,465.94 L159.2,466.9 L159.7,467.86 L160.2,468.82 L160.7,469.77 L161.2,470.73 L161.7,471.69 L162.2,472.64 L162.7,473.59 L163.2,474.53 L163.7,475.46 L164.2,476.39 L164.7,477.31 L165.2,478.23 L165.7,479.13 L166.2,480.02 L166.7,480.91 L167.2,481.78 L167.7,482.64 L168.2,483.48 L168.7,484.32 L169.2,485.14 L169.7,485.94 L170.2,486.74 L170.7,487.51 L171.2,488.28 L171.7,489.02 L172.2,489.76 L172.7,490.47 L173.2,491.17 L173.7,491.86 L174.2,492.52 L174.7,493.18 L175.2,493.81 L175.7,494.43 L176.2,495.03 L176.7,495.62 L177.2,496.19 L177.7,496.74 L178.2,497.28 L178.7,497.8 L179.2,498.3 L179.7,498.79 L180.2,499.26 L180.7,499.72 L181.2,500.16 L181.7,500.59 L182.2,501 L182.7,501.4 L183.2,501.78 L183.7,502.15 L184.2,502.5 L184.7,502.84 L185.2,503.17 L185.7,503.49 L186.2,503.79 L186.7,504.08 L187.2,504.36 L187.7,504.63 L188.2,504.88 L188.7,505.13 L189.2,505.36 L189.7,505.58 L190.2,505.8 L190.7,506 L191.2,506.2 L191.7,506.38 L192.2,506.56 L192.7,506.73 L193.2,506.89 L193.7,507.04 L194.2,507.18 L194.7,507.32 L195.2,507.45 L195.7,507.57 L196.2,507.69 L196.7,507.8 L197.2,507.9 L197.7,508 L198.2,508.1 L198.7,508.19 L199.2,508.27 L199.7,508.35 L200.2,508.42 L200.7,508.49 L201.2,508.56 L201.7,508.62 L202.2,508.68 L202.7,508.74 L203.2,508.79 L203.7,508.84 L204.2,508.88 L204.7,508.93 L205.2,508.97 L205.7,509 L206.2,509.04 L206.7,509.07 L207.2,509.1 L207.7,509.13 L208.2,509.16 L208.7,509.18 L208.7,509.5 L208.2,509.5 L207.7,509.5 L207.2,509.5 L206.7,509.5 L206.2,509.5 L205.7,509.5 L205.2,509.5 L204.7,509.5 L204.2,509.5 L203.7,509.5 L203.2,509.5 L202.7,509.5 L202.2,509.5 L201.7,509.5 L201.2,509.5 L200.7,509.5 L200.2,509.5 L199.7,509.5 L199.2,509.5 L198.7,509.5 L198.2,509.5 L197.7,509.5 L197.2,509.5 L196.7,509.5 L196.2,509.5 L195.7,509.5 L195.2,509.5 L194.7,509.5 L194.2,509.5 L193.7,509.5 L193.2,509.5 L192.7,509.5 L192.2,509.5 L191.7,509.5 L191.2,509.5 L190.7,509.5 L190.2,509.5 L189.7,509.5 L189.2,509.5 L188.7,509.5 L188.2,509.5 L187.7,509.5 L187.2,509.5 L186.7,509.5 L186.2,509.5 L185.7,509.5 L185.2,509.5 L184.7,509.5 L184.2,509.5 L183.7,509.5 L183.2,509.5 L182.7,509.5 L182.2,509.5 L181.7,509.5 L181.2,509.5 L180.7,509.5 L180.2,509.5 L179.7,509.5 L179.2,509.5 L178.7,509.5 L178.2,509.5 L177.7,509.5 L177.2,509.5 L176.7,509.5 L176.2,509.5 L175.7,509.5 L175.2,509.5 L174.7,509.5 L174.2,509.5 L173.7,509.5 L173.2,509.5 L172.7,509.5 L172.2,509.5 L171.7,509.5 L171.2,509.5 L170.7,509.5 L170.2,509.5 L169.7,509.5 L169.2,509.5 L168.7,509.5 L168.2,509.5 L167.7,509.5 L167.2,509.5 L166.7,509.5 L166.2,509.5 L165.7,509.5 L165.2,509.5 L164.7,509.5 L164.2,509.5 L163.7,509.5 L163.2,509.5 L162.7,509.5 L162.2,509.5 L161.7,509.5 L161.2,509.5 L160.7,509.5 L160.2,509.5 L159.7,509.5 L159.2,509.5 L158.7,509.5 L158.2,509.5 L157.7,509.5 L157.2,509.5 L156.7,509.5 L156.2,509.5 L155.7,509.5 L155.2,509.5 L154.7,509.5 L154.2,509.5 L153.7,509.5 L153.2,509.5 L152.7,509.5 L152.2,509.5 L151.7,509.5 L151.2,509.5 L150.7,509.5 L150.2,509.5 L149.7,509.5 L149.2,509.5 L148.7,509.5 L148.2,509.5 L147.7,509.5 L147.2,509.5 L146.7,509.5 L146.2,509.5 L145.7,509.5 L145.2,509.5 L144.7,509.5 L144.2,509.5 L143.7,509.5 L143.2,509.5 L142.7,509.5 L142.2,509.5 L141.7,509.5 L141.2,509.5 L140.7,509.5 L140.2,509.5 L139.7,509.5 L139.2,509.5 L138.7,509.5 L138.2,509.5 L137.7,509.5 L137.2,509.5 L136.7,509.5 L136.2,509.5 L135.7,509.5 L135.2,509.5 L134.7,509.5 L134.2,509.5 L133.7,509.5 L133.2,509.5 L132.7,509.5 L132.2,509.5 L131.7,509.5 L131.2,509.5 L130.7,509.5 L130.2,509.5 L129.7,509.5 L129.2,509.5 L128.7,509.5 L128.2,509.5 L127.7,509.5 L127.2,509.5 L126.7,509.5 L126.2,509.5 L125.7,509.5 L125.2,509.5 L124.7,509.5 L124.2,509.5 L123.7,509.5 L123.2,509.5 L122.7,509.5 L122.2,509.5 L121.7,509.5 L121.2,509.5 L120.7,509.5 L120.2,509.5 L119.7,509.5 L119.2,509.5 L118.7,509.5 L118.2,509.5 L117.7,509.5 L117.2,509.5 L116.7,509.5 L116.2,509.5 L115.7,509.5 L115.2,509.5 L114.7,509.5 L114.2,509.5 L113.7,509.5 L113.2,509.5 L112.7,509.5 L112.2,509.5 L111.7,509.5 L111.2,509.5 L110.7,509.5 L110.2,509.5 L109.7,509.5 L109.2,509.5 L108.7,509.5 L108.2,509.5 L107.7,509.5 L107.2,509.5 L106.7,509.5 L106.2,509.5 L105.7,509.5 L105.2,509.5 L104.7,509.5 L104.2,509.5 L103.7,509.5 L103.2,509.5 L102.7,509.5 L102.2,509.5 L101.7,509.5 L101.2,509.5 L100.7,509.5 L100.2,509.5 L99.7,509.5 L99.2,509.5 L98.7,509.5 L98.2,509.5 L97.7,509.5 L97.2,509.5 L96.7,509.5 L96.2,509.5 L95.7,509.5 L95.2,509.5 L94.7,509.5 L94.2,509.5 L93.7,509.5 L93.2,509.5 L92.7,509.5 L92.2,509.5 L91.7,509.5 L91.2,509.5 L90.7,509.5 L90.2,509.5 L89.7,509.5 L89.2,509.5 L88.7,509.5 L88.2,509.5 L87.7,509.5 L87.2,509.5 L86.7,509.5 L86.2,509.5 L85.7,509.5 L85.2,509.5 L84.7,509.5 L84.2,509.5 L83.7,509.5 L83.2,509.5 L82.7,509.5 L82.2,509.5 L81.7,509.5 L81.2,509.5 L80.7,509.5 L80.2,509.5 L79.7,509.5 L79.2,509.5 L78.7,509.5 L78.2,509.5 L77.7,509.5 L77.2,509.5 L76.7,509.5 L76.2,509.5 L75.7,509.5 L75.2,509.5 L74.7,509.5 L74.2,509.5 L73.7,509.5 L73.2,509.5 L72.7,509.5 L72.2,509.5 L71.7,509.5 L71.2,509.5 L70.7,509.5 L70.2,509.5 L69.7,509.5 L69.2,509.5 L68.7,509.5 L68.2,509.5 Z" fill="url(#gr)"/>
<g fill="none" stroke="#d8d8d8" stroke-width="0.6"><circle cx="368" cy="496.16" r="2.4"/><circle cx="371" cy="496.4" r="2.4"/><circle cx="374" cy="495.74" r="2.4"/><circle cx="377" cy="495" r="2.4"/><circle cx="380" cy="495.27" r="2.4"/><circle cx="383" cy="494.52" r="2.4"/><circle cx="386" cy="495.28" r="2.4"/><circle cx="389" cy="496.18" r="2.4"/><circle cx="392" cy="493.86" r="2.4"/><circle cx="395" cy="493.12" r="2.4"/><circle cx="398" cy="493.46" r="2.4"/><circle cx="401" cy="492.4" r="2.4"/><circle cx="404" cy="491.03" r="2.4"/><circle cx="407" cy="488.68" r="2.4"/><circle cx="410" cy="488.05" r="2.4"/><circle cx="413" cy="487.02" r="2.4"/><circle cx="416" cy="483.02" r="2.4"/><circle cx="419" cy="481.73" r="2.4"/><circle cx="422" cy="477.93" r="2.4"/><circle cx="425" cy="476.04" r="2.4"/><circle cx="428" cy="472.87" r="2.4"/><circle cx="431" cy="471.79" r="2.4"/><circle cx="434" cy="468.07" r="2.4"/><circle cx="437" cy="466.97" r="2.4"/><circle cx="440" cy="464.32" r="2.4"/><circle cx="443" cy="461.62" r="2.4"/><circle cx="446" cy="457.14" r="2.4"/><circle cx="449" cy="457.21" r="2.4"/><circle cx="452" cy="456.05" r="2.4"/><circle cx="455" cy="454.82" r="2.4"/><circle cx="458" cy="452.02" r="2.4"/><circle cx="461" cy="452.13" r="2.4"/><circle cx="464" cy="450.86" r="2.4"/><circle cx="467" cy="450.38" r="2.4"/><circle cx="470" cy="451.67" r="2.4"/><circle cx="473" cy="449.2" r="2.4"/><circle cx="476" cy="449.25" r="2.4"/><circle cx="479" cy="449.18" r="2.4"/><circle cx="482" cy="446.29" r="2.4"/><circle cx="485" cy="444.73" r="2.4"/><circle cx="488" cy="442.09" r="2.4"/><circle cx="491" cy="438.17" r="2.4"/><circle cx="494" cy="431.84" r="2.4"/><circle cx="497" cy="426.82" r="2.4"/><circle cx="500" cy="420.52" r="2.4"/><circle cx="503" cy="408.87" r="2.4"/><circle cx="506" cy="401.65" r="2.4"/><circle cx="509" cy="390.8" r="2.4"/><circle cx="512" cy="380" r="2.4"/><circle cx="515" cy="373.33" r="2.4"/><circle cx="518" cy="364.25" r="2.4"/><circle cx="521" cy="356.65" r="2.4"/><circle cx="524" cy="355.16" r="2.4"/><circle cx="527" cy="356.19" r="2.4"/><circle cx="530" cy="358.94" r="2.4"/><circle cx="533" cy="365.94" r="2.4"/><circle cx="536" cy="373.55" r="2.4"/><circle cx="539" cy="384.38" r="2.4"/><circle cx="542" cy="396.42" r="2.4"/><circle cx="545" cy="406.2" r="2.4"/><circle cx="548" cy="419.08" r="2.4"/><circle cx="551" cy="430.07" r="2.4"/><circle cx="554" cy="441.63" r="2.4"/><circle cx="557" cy="450.33" r="2.4"/><circle cx="560" cy="459.84" r="2.4"/><circle cx="563" cy="467.93" r="2.4"/><circle cx="566" cy="475.54" r="2.4"/><circle cx="569" cy="481.17" r="2.4"/><circle cx="572" cy="483.06" r="2.4"/><circle cx="575" cy="487.04" r="2.4"/><circle cx="578" cy="491.18" r="2.4"/><circle cx="581" cy="490.6" r="2.4"/><circle cx="584" cy="493.7" r="2.4"/><circle cx="587" cy="495.24" r="2.4"/><circle cx="590" cy="497.48" r="2.4"/><circle cx="593" cy="497.57" r="2.4"/><circle cx="596" cy="497.06" r="2.4"/><circle cx="599" cy="497.41" r="2.4"/><circle cx="602" cy="497.84" r="2.4"/><circle cx="605" cy="499.87" r="2.4"/><circle cx="608" cy="498.13" r="2.4"/><circle cx="611" cy="498.44" r="2.4"/><circle cx="614" cy="499.26" r="2.4"/><circle cx="617" cy="498.93" r="2.4"/><circle cx="620" cy="498.99" r="2.4"/><circle cx="623" cy="498.2" r="2.4"/><circle cx="626" cy="499.42" r="2.4"/><circle cx="629" cy="499.1" r="2.4"/><circle cx="632" cy="500.82" r="2.4"/><circle cx="635" cy="500.41" r="2.4"/><circle cx="638" cy="499.83" r="2.4"/><circle cx="641" cy="500.62" r="2.4"/><circle cx="644" cy="499.7" r="2.4"/></g>
<path d="M367.4,495.87 L367.9,495.86 L368.4,495.85 L368.9,495.84 L369.4,495.83 L369.9,495.82 L370.4,495.81 L370.9,495.8 L371.4,495.79 L371.9,495.77 L372.4,495.76 L372.9,495.75 L373.4,495.73 L373.9,495.71 L374.4,495.7 L374.9,495.68 L375.4,495.66 L375.9,495.64 L376.4,495.62 L376.9,495.6 L377.4,495.57 L377.9,495.55 L378.4,495.52 L378.9,495.49 L379.4,495.46 L379.9,495.43 L380.4,495.4 L380.9,495.37 L381.4,495.33 L381.9,495.3 L382.4,495.26 L382.9,495.22 L383.4,495.17 L383.9,495.13 L384.4,495.08 L384.9,495.03 L385.4,494.98 L385.9,494.93 L386.4,494.87 L386.9,494.81 L387.4,494.75 L387.9,494.69 L388.4,494.62 L388.9,494.55 L389.4,494.48 L389.9,494.4 L390.4,494.32 L390.9,494.24 L391.4,494.16 L391.9,494.07 L392.4,493.98 L392.9,493.88 L393.4,493.78 L393.9,493.68 L394.4,493.57 L394.9,493.46 L395.4,493.34 L395.9,493.22 L396.4,493.1 L396.9,492.97 L397.4,492.84 L397.9,492.7 L398.4,492.56 L398.9,492.41 L399.4,492.26 L399.9,492.11 L400.4,491.95 L400.9,491.78 L401.4,491.61 L401.9,491.43 L402.4,491.25 L402.9,491.06 L403.4,490.87 L403.9,490.67 L404.4,490.47 L404.9,490.26 L405.4,490.04 L405.9,489.82 L406.4,489.59 L406.9,489.36 L407.4,489.12 L407.9,488.87 L408.4,488.62 L408.9,488.36 L409.4,488.1 L409.9,487.83 L410.4,487.56 L410.9,487.27 L411.4,486.99 L411.9,486.69 L412.4,486.39 L412.9,486.09 L413.4,485.78 L413.9,485.46 L414.4,485.13 L414.9,484.8 L415.4,484.47 L415.9,484.13 L416.4,483.78 L416.9,483.43 L417.4,483.07 L417.9,482.71 L418.4,482.34 L418.9,481.96 L419.4,481.59 L419.9,481.2 L420.4,480.81 L420.9,480.42 L421.4,480.02 L421.9,479.62 L422.4,479.21 L422.9,478.8 L423.4,478.38 L423.9,477.96 L424.4,477.54 L424.9,477.12 L425.4,476.69 L425.9,476.25 L426.4,475.82 L426.9,475.38 L427.4,474.94 L427.9,474.5 L428.4,474.06 L428.9,473.61 L429.4,473.16 L429.9,472.72 L430.4,472.27 L430.9,471.82 L431.4,471.37 L431.9,470.92 L432.4,470.47 L432.9,470.02 L433.4,469.57 L433.9,469.13 L434.4,468.68 L434.9,468.24 L435.4,467.79 L435.9,467.35 L436.4,466.92 L436.9,466.48 L437.4,466.05 L437.9,465.62 L438.4,465.2 L438.9,464.78 L439.4,464.36 L439.9,463.95 L440.4,463.54 L440.9,463.14 L441.4,462.74 L441.9,462.35 L442.4,461.96 L442.9,461.58 L443.4,461.21 L443.9,460.84 L444.4,460.47 L444.9,460.12 L445.4,459.77 L445.9,459.42 L446.4,459.09 L446.9,458.76 L447.4,458.44 L447.9,458.12 L448.4,457.81 L448.9,457.51 L449.4,457.22 L449.9,456.93 L450.4,456.65 L450.9,456.38 L451.4,456.11 L451.9,455.85 L452.4,455.6 L452.9,455.36 L453.4,455.12 L453.9,454.89 L454.4,454.67 L454.9,454.45 L455.4,454.24 L455.9,454.04 L456.4,453.84 L456.9,453.65 L457.4,453.46 L457.9,453.29 L458.4,453.11 L458.9,452.95 L459.4,452.78 L459.9,452.63 L460.4,452.48 L460.9,452.33 L461.4,452.19 L461.9,452.06 L462.4,451.93 L462.9,451.8 L463.4,451.68 L463.9,451.56 L464.4,451.44 L464.9,451.33 L465.4,451.22 L465.9,451.12 L466.4,451.01 L466.9,450.91 L467.4,450.81 L467.9,450.71 L468.4,450.62 L468.9,450.52 L469.4,450.43 L469.9,450.33 L470.4,450.23 L470.9,450.14 L471.4,450.04 L471.9,449.94 L472.4,449.84 L472.9,449.73 L473.4,449.62 L473.9,449.51 L474.4,449.4 L474.9,449.27 L475.4,449.15 L475.9,449.01 L476.4,448.87 L476.9,448.72 L477.4,448.56 L477.9,448.4 L478.4,448.22 L478.9,448.03 L479.4,447.83 L479.9,447.62 L480.4,447.4 L480.9,447.16 L481.4,446.9 L481.9,446.63 L482.4,446.34 L482.9,446.04 L483.4,445.71 L483.9,445.37 L484.4,445 L484.9,444.62 L485.4,444.21 L485.9,443.78 L486.4,443.32 L486.9,442.84 L487.4,442.33 L487.9,441.79 L488.4,441.23 L488.9,440.63 L489.4,440.01 L489.9,439.36 L490.4,438.67 L490.9,437.96 L491.4,437.21 L491.9,436.42 L492.4,435.61 L492.9,434.76 L493.4,433.87 L493.9,432.95 L494.4,432 L494.9,431 L495.4,429.98 L495.9,428.91 L496.4,427.81 L496.9,426.68 L497.4,425.51 L497.9,424.3 L498.4,423.06 L498.9,421.78 L499.4,420.47 L499.9,419.13 L500.4,417.75 L500.9,416.35 L501.4,414.91 L501.9,413.44 L502.4,411.95 L502.9,410.42 L503.4,408.88 L503.9,407.31 L504.4,405.71 L504.9,404.1 L505.4,402.47 L505.9,400.82 L506.4,399.16 L506.9,397.48 L507.4,395.8 L507.9,394.11 L508.4,392.41 L508.9,390.72 L509.4,389.02 L509.9,387.33 L510.4,385.65 L510.9,383.97 L511.4,382.31 L511.9,380.66 L512.4,379.04 L512.9,377.43 L513.4,375.86 L513.9,374.31 L514.4,372.79 L514.9,371.32 L515.4,369.88 L515.9,368.48 L516.4,367.14 L516.9,365.84 L517.4,364.6 L517.9,363.41 L518.4,362.29 L518.9,361.23 L519.4,360.24 L519.9,359.32 L520.4,358.47 L520.9,357.7 L521.4,357.01 L521.9,356.4 L522.4,355.87 L522.9,355.44 L523.4,355.09 L523.9,354.83 L524.4,354.66 L524.9,354.59 L525.4,354.61 L525.9,354.73 L526.4,354.94 L526.9,355.24 L527.4,355.62 L527.9,356.08 L528.4,356.62 L528.9,357.23 L529.4,357.91 L529.9,358.67 L530.4,359.5 L530.9,360.41 L531.4,361.38 L531.9,362.43 L532.4,363.54 L532.9,364.71 L533.4,365.95 L533.9,367.25 L534.4,368.6 L534.9,370.02 L535.4,371.48 L535.9,373 L536.4,374.57 L536.9,376.18 L537.4,377.84 L537.9,379.54 L538.4,381.28 L538.9,383.05 L539.4,384.86 L539.9,386.69 L540.4,388.56 L540.9,390.45 L541.4,392.36 L541.9,394.29 L542.4,396.24 L542.9,398.21 L543.4,400.19 L543.9,402.18 L544.4,404.17 L544.9,406.17 L545.4,408.18 L545.9,410.19 L546.4,412.19 L546.9,414.19 L547.4,416.19 L547.9,418.18 L548.4,420.16 L548.9,422.13 L549.4,424.08 L549.9,426.02 L550.4,427.95 L550.9,429.86 L551.4,431.75 L551.9,433.61 L552.4,435.46 L552.9,437.28 L553.4,439.08 L553.9,440.85 L554.4,442.6 L554.9,444.32 L555.4,446.01 L555.9,447.67 L556.4,449.3 L556.9,450.91 L557.4,452.48 L557.9,454.01 L558.4,455.52 L558.9,456.99 L559.4,458.44 L559.9,459.84 L560.4,461.22 L560.9,462.56 L561.4,463.87 L561.9,465.14 L562.4,466.38 L562.9,467.59 L563.4,468.77 L563.9,469.91 L564.4,471.02 L564.9,472.09 L565.4,473.14 L565.9,474.15 L566.4,475.13 L566.9,476.08 L567.4,476.99 L567.9,477.88 L568.4,478.74 L568.9,479.57 L569.4,480.37 L569.9,481.14 L570.4,481.88 L570.9,482.6 L571.4,483.29 L571.9,483.95 L572.4,484.59 L572.9,485.21 L573.4,485.8 L573.9,486.37 L574.4,486.91 L574.9,487.44 L575.4,487.94 L575.9,488.42 L576.4,488.88 L576.9,489.32 L577.4,489.75 L577.9,490.15 L578.4,490.54 L578.9,490.91 L579.4,491.26 L579.9,491.6 L580.4,491.93 L580.9,492.23 L581.4,492.53 L581.9,492.81 L582.4,493.08 L582.9,493.34 L583.4,493.58 L583.9,493.81 L584.4,494.04 L584.9,494.25 L585.4,494.45 L585.9,494.64 L586.4,494.83 L586.9,495 L587.4,495.17 L587.9,495.33 L588.4,495.48 L588.9,495.62 L589.4,495.76 L589.9,495.89 L590.4,496.02 L590.9,496.14 L591.4,496.25 L591.9,496.36 L592.4,496.47 L592.9,496.56 L593.4,496.66 L593.9,496.75 L594.4,496.84 L594.9,496.92 L595.4,497 L595.9,497.07 L596.4,497.15 L596.9,497.22 L597.4,497.28 L597.9,497.35 L598.4,497.41 L598.9,497.47 L599.4,497.52 L599.9,497.58 L600.4,497.63 L600.9,497.68 L601.4,497.73 L601.9,497.78 L602.4,497.83 L602.9,497.87 L603.4,497.91 L603.9,497.96 L604.4,498 L604.9,498.03 L605.4,498.07 L605.9,498.11 L606.4,498.15 L606.9,498.18 L607.4,498.22 L607.9,498.25 L608.4,498.28 L608.9,498.31 L609.4,498.34 L609.9,498.37 L610.4,498.4 L610.9,498.43 L611.4,498.46 L611.9,498.49 L612.4,498.52 L612.9,498.55 L613.4,498.57 L613.9,498.6 L614.4,498.62 L614.9,498.65 L615.4,498.67 L615.9,498.7 L616.4,498.72 L616.9,498.75 L617.4,498.77 L617.9,498.79 L618.4,498.82 L618.9,498.84 L619.4,498.86 L619.9,498.88 L620.4,498.91 L620.9,498.93 L621.4,498.95 L621.9,498.97 L622.4,498.99 L622.9,499.01 L623.4,499.03 L623.9,499.05 L624.4,499.07 L624.9,499.09 L625.4,499.11 L625.9,499.13 L626.4,499.15 L626.9,499.17 L627.4,499.19 L627.9,499.21 L628.4,499.23 L628.9,499.24 L629.4,499.26 L629.9,499.28 L630.4,499.3 L630.9,499.32 L631.4,499.33 L631.9,499.35 L632.4,499.37 L632.9,499.39 L633.4,499.4 L633.9,499.42 L634.4,499.44 L634.9,499.45 L635.4,499.47 L635.9,499.49 L636.4,499.5 L636.9,499.52 L637.4,499.54 L637.9,499.55 L638.4,499.57 L638.9,499.58 L639.4,499.6 L639.9,499.61 L640.4,499.63 L640.9,499.65 L641.4,499.66 L641.9,499.68 L642.4,499.69 L642.9,499.71 L643.4,499.72 L643.9,499.74 L644.4,499.75 L644.9,499.77 L645.4,499.78 L645.9,499.79 L646.4,499.81" fill="none" stroke="#e02a3c" stroke-width="1.6"/>
<path d="M490.4,475.17 L490.9,474.14 L491.4,473.08 L491.9,471.98 L492.4,470.84 L492.9,469.67 L493.4,468.45 L493.9,467.2 L494.4,465.91 L494.9,464.58 L495.4,463.21 L495.9,461.81 L496.4,460.36 L496.9,458.88 L497.4,457.36 L497.9,455.8 L498.4,454.21 L498.9,452.58 L499.4,450.91 L499.9,449.22 L500.4,447.48 L500.9,445.72 L501.4,443.92 L501.9,442.1 L502.4,440.24 L502.9,438.36 L503.4,436.46 L503.9,434.53 L504.4,432.58 L504.9,430.61 L505.4,428.62 L505.9,426.61 L506.4,424.6 L506.9,422.57 L507.4,420.53 L507.9,418.49 L508.4,416.44 L508.9,414.4 L509.4,412.36 L509.9,410.32 L510.4,408.29 L510.9,406.27 L511.4,404.27 L511.9,402.28 L512.4,400.32 L512.9,398.38 L513.4,396.47 L513.9,394.58 L514.4,392.74 L514.9,390.93 L515.4,389.17 L515.9,387.45 L516.4,385.78 L516.9,384.16 L517.4,382.6 L517.9,381.1 L518.4,379.67 L518.9,378.3 L519.4,377 L519.9,375.77 L520.4,374.62 L520.9,373.54 L521.4,372.55 L521.9,371.65 L522.4,370.83 L522.9,370.1 L523.4,369.46 L523.9,368.91 L524.4,368.46 L524.9,368.11 L525.4,367.85 L525.9,367.69 L526.4,367.63 L526.9,367.66 L527.4,367.77 L527.9,367.96 L528.4,368.23 L528.9,368.58 L529.4,369.01 L529.9,369.51 L530.4,370.09 L530.9,370.75 L531.4,371.47 L531.9,372.27 L532.4,373.14 L532.9,374.08 L533.4,375.08 L533.9,376.15 L534.4,377.28 L534.9,378.47 L535.4,379.71 L535.9,381.01 L536.4,382.36 L536.9,383.76 L537.4,385.21 L537.9,386.7 L538.4,388.24 L538.9,389.81 L539.4,391.42 L539.9,393.07 L540.4,394.74 L540.9,396.45 L541.4,398.18 L541.9,399.93 L542.4,401.71 L542.9,403.51 L543.4,405.32 L543.9,407.14 L544.4,408.98 L544.9,410.82 L545.4,412.68 L545.9,414.53 L546.4,416.39 L546.9,418.25 L547.4,420.11 L547.9,421.96 L548.4,423.81 L548.9,425.65 L549.4,427.48 L549.9,429.3 L550.4,431.11 L550.9,432.91 L551.4,434.68 L551.9,436.44 L552.4,438.19 L552.9,439.91 L553.4,441.61 L553.9,443.29 L554.4,444.94 L554.9,446.57 L555.4,448.18 L555.9,449.76 L556.4,451.31 L556.9,452.83 L557.4,454.33 L557.9,455.8 L558.4,457.23 L558.9,458.64 L559.4,460.02 L559.9,461.36 L560.4,462.68 L560.9,463.96 L561.4,465.22 L561.9,466.44 L562.4,467.63 L562.9,468.79 L563.4,469.92 L563.9,471.01 L564.4,472.08 L564.9,473.11 L565.4,474.12 L565.9,475.09 L566.4,476.04 L566.9,476.95 L567.4,477.84 L567.9,478.69 L568.4,479.52 L568.9,480.32 L569.4,481.09 L569.9,481.84 L570.4,482.56 L570.9,483.25 L571.4,483.92 L571.9,484.56 L572.4,485.18 L572.9,485.77 L573.4,486.34 L573.9,486.89 L574.4,487.42 L574.9,487.93 L575.4,488.41 L575.9,488.88 L576.4,489.33 L576.9,489.75 L577.4,490.16 L577.9,490.56 L578.4,490.93 L578.9,491.29 L579.4,491.63 L579.9,491.96 L580.4,492.28 L580.9,492.58 L581.4,492.86 L581.9,493.13 L582.4,493.39 L582.9,493.64 L583.4,493.88 L583.9,494.11 L584.4,494.32 L584.9,494.53 L585.4,494.72 L585.9,494.91 L586.4,495.08 L586.9,495.25 L587.4,495.41 L587.9,495.57 L588.4,495.71 L588.9,495.85 L589.4,495.99 L589.9,496.11 L590.4,496.23 L590.9,496.35 L591.4,496.46 L591.9,496.56 L592.4,496.66 L592.9,496.76 L593.4,496.85 L593.9,496.93 L594.4,497.02 L594.9,497.1 L595.4,497.17 L595.9,497.24 L596.4,497.31 L596.9,497.38 L597.4,497.44 L597.9,497.5 L598.4,497.56 L598.9,497.62 L599.4,497.67 L599.9,497.72 L600.4,497.77 L600.9,497.82 L601.4,497.87 L601.9,497.91 L602.4,497.96 L602.9,498 L603.4,498.04 L603.9,498.08 L604.4,498.12 L604.9,498.15 L605.4,498.19 L605.9,498.22 L606.4,498.26 L606.9,498.29 L607.4,498.32 L607.9,498.35 L608.4,498.38 L608.9,498.41 L609.4,498.44 L609.9,498.47 L610.4,498.5 L610.9,498.52 L611.4,498.55 L611.9,498.58 L612.4,498.6 L612.9,498.63 L613.4,498.65 L613.9,498.68 L614.4,498.7 L614.9,498.72 L615.4,498.75 L615.9,498.77 L616.4,498.79 L616.9,498.81 L617.4,498.84 L617.9,498.86 L618.4,498.88 L618.9,498.9 L619.4,498.92 L619.9,498.94 L620.4,498.96 L620.9,498.98 L621.4,499 L621.9,499.02 L622.4,499.04 L622.9,499.06 L623.4,499.08 L623.9,499.1 L624.4,499.11 L624.9,499.13 L625.4,499.15 L625.9,499.17 L626.4,499.19 L626.9,499.2 L627.4,499.22 L627.9,499.24 L628.4,499.26 L628.9,499.27 L629.4,499.29 L629.9,499.31 L630.4,499.32 L630.9,499.34 L631.4,499.36 L631.9,499.37 L632.4,499.39 L632.9,499.4 L633.4,499.42 L633.9,499.44 L634.4,499.45 L634.9,499.47 L635.4,499.48 L635.9,499.5 L636.4,499.51 L636.9,499.53 L637.4,499.54 L637.9,499.56 L638.4,499.57 L638.9,499.59 L639.4,499.6 L639.9,499.62 L640.4,499.63 L640.9,499.64 L641.4,499.66 L641.9,499.67 L642.4,499.69 L642.9,499.7 L643.4,499.71 L643.9,499.73 L644.4,499.74 L644.9,499.76 L645.4,499.77 L645.9,499.78 L646.4,499.8 L646.4,500.59 L645.9,500.58 L645.4,500.58 L644.9,500.57 L644.4,500.56 L643.9,500.56 L643.4,500.55 L642.9,500.54 L642.4,500.54 L641.9,500.53 L641.4,500.52 L640.9,500.52 L640.4,500.51 L639.9,500.5 L639.4,500.49 L638.9,500.49 L638.4,500.48 L637.9,500.47 L637.4,500.47 L636.9,500.46 L636.4,500.45 L635.9,500.45 L635.4,500.44 L634.9,500.43 L634.4,500.43 L633.9,500.42 L633.4,500.41 L632.9,500.4 L632.4,500.4 L631.9,500.39 L631.4,500.38 L630.9,500.38 L630.4,500.37 L629.9,500.36 L629.4,500.36 L628.9,500.35 L628.4,500.34 L627.9,500.33 L627.4,500.33 L626.9,500.32 L626.4,500.31 L625.9,500.31 L625.4,500.3 L624.9,500.29 L624.4,500.29 L623.9,500.28 L623.4,500.27 L622.9,500.27 L622.4,500.26 L621.9,500.25 L621.4,500.24 L620.9,500.24 L620.4,500.23 L619.9,500.22 L619.4,500.22 L618.9,500.21 L618.4,500.2 L617.9,500.2 L617.4,500.19 L616.9,500.18 L616.4,500.18 L615.9,500.17 L615.4,500.16 L614.9,500.15 L614.4,500.15 L613.9,500.14 L613.4,500.13 L612.9,500.13 L612.4,500.12 L611.9,500.11 L611.4,500.11 L610.9,500.1 L610.4,500.09 L609.9,500.09 L609.4,500.08 L608.9,500.07 L608.4,500.06 L607.9,500.06 L607.4,500.05 L606.9,500.04 L606.4,500.04 L605.9,500.03 L605.4,500.02 L604.9,500.02 L604.4,500.01 L603.9,500 L603.4,499.99 L602.9,499.99 L602.4,499.98 L601.9,499.97 L601.4,499.97 L600.9,499.96 L600.4,499.95 L599.9,499.95 L599.4,499.94 L598.9,499.93 L598.4,499.93 L597.9,499.92 L597.4,499.91 L596.9,499.9 L596.4,499.9 L595.9,499.89 L595.4,499.88 L594.9,499.88 L594.4,499.87 L593.9,499.86 L593.4,499.86 L592.9,499.85 L592.4,499.84 L591.9,499.84 L591.4,499.83 L590.9,499.82 L590.4,499.81 L589.9,499.81 L589.4,499.8 L588.9,499.79 L588.4,499.79 L587.9,499.78 L587.4,499.77 L586.9,499.77 L586.4,499.76 L585.9,499.75 L585.4,499.75 L584.9,499.74 L584.4,499.73 L583.9,499.72 L583.4,499.72 L582.9,499.71 L582.4,499.7 L581.9,499.7 L581.4,499.69 L580.9,499.68 L580.4,499.68 L579.9,499.67 L579.4,499.66 L578.9,499.65 L578.4,499.65 L577.9,499.64 L577.4,499.63 L576.9,499.63 L576.4,499.62 L575.9,499.61 L575.4,499.61 L574.9,499.6 L574.4,499.59 L573.9,499.59 L573.4,499.58 L572.9,499.57 L572.4,499.56 L571.9,499.56 L571.4,499.55 L570.9,499.54 L570.4,499.54 L569.9,499.53 L569.4,499.52 L568.9,499.52 L568.4,499.51 L567.9,499.5 L567.4,499.5 L566.9,499.49 L566.4,499.48 L565.9,499.47 L565.4,499.47 L564.9,499.46 L564.4,499.45 L563.9,499.45 L563.4,499.44 L562.9,499.43 L562.4,499.43 L561.9,499.42 L561.4,499.41 L560.9,499.41 L560.4,499.4 L559.9,499.39 L559.4,499.38 L558.9,499.38 L558.4,499.37 L557.9,499.36 L557.4,499.36 L556.9,499.35 L556.4,499.34 L555.9,499.34 L555.4,499.33 L554.9,499.32 L554.4,499.31 L553.9,499.31 L553.4,499.3 L552.9,499.29 L552.4,499.29 L551.9,499.28 L551.4,499.27 L550.9,499.27 L550.4,499.26 L549.9,499.25 L549.4,499.25 L548.9,499.24 L548.4,499.23 L547.9,499.22 L547.4,499.22 L546.9,499.21 L546.4,499.2 L545.9,499.2 L545.4,499.19 L544.9,499.18 L544.4,499.18 L543.9,499.17 L543.4,499.16 L542.9,499.16 L542.4,499.15 L541.9,499.14 L541.4,499.13 L540.9,499.13 L540.4,499.12 L539.9,499.11 L539.4,499.11 L538.9,499.1 L538.4,499.09 L537.9,499.09 L537.4,499.08 L536.9,499.07 L536.4,499.06 L535.9,499.06 L535.4,499.05 L534.9,499.04 L534.4,499.04 L533.9,499.03 L533.4,499.02 L532.9,499.02 L532.4,499.01 L531.9,499 L531.4,499 L530.9,499 L530.4,499 L529.9,499 L529.4,499 L528.9,499 L528.4,499 L527.9,499 L527.4,499 L526.9,499 L526.4,499 L525.9,499 L525.4,499 L524.9,499 L524.4,499 L523.9,499 L523.4,499 L522.9,499 L522.4,499 L521.9,499 L521.4,499 L520.9,499 L520.4,499 L519.9,499 L519.4,499 L518.9,499 L518.4,499 L517.9,499 L517.4,499 L516.9,499 L516.4,499 L515.9,499 L515.4,499 L514.9,499 L514.4,499 L513.9,499 L513.4,499 L512.9,499 L512.4,499 L511.9,499 L511.4,499 L510.9,499 L510.4,499 L509.9,499 L509.4,499 L508.9,499 L508.4,499 L507.9,499 L507.4,499 L506.9,499 L506.4,499 L505.9,499 L505.4,499 L504.9,499 L504.4,499 L503.9,499 L503.4,499 L502.9,499 L502.4,499 L501.9,499 L501.4,499 L500.9,499 L500.4,499 L499.9,499 L499.4,499 L498.9,499 L498.4,499 L497.9,499 L497.4,499 L496.9,499 L496.4,499 L495.9,499 L495.4,499 L494.9,499 L494.4,499 L493.9,499 L493.4,499 L492.9,499 L492.4,499 L491.9,499 L491.4,499 L490.9,499 L490.4,499 Z" fill="url(#gr2)"/>
<path d="M380.4,496.5 L380.9,496.5 L381.4,496.5 L381.9,496.5 L382.4,496.5 L382.9,496.49 L383.4,496.49 L383.9,496.49 L384.4,496.49 L384.9,496.49 L385.4,496.48 L385.9,496.48 L386.4,496.48 L386.9,496.47 L387.4,496.47 L387.9,496.46 L388.4,496.46 L388.9,496.45 L389.4,496.45 L389.9,496.44 L390.4,496.43 L390.9,496.42 L391.4,496.41 L391.9,496.4 L392.4,496.39 L392.9,496.38 L393.4,496.37 L393.9,496.36 L394.4,496.35 L394.9,496.33 L395.4,496.32 L395.9,496.3 L396.4,496.28 L396.9,496.27 L397.4,496.25 L397.9,496.23 L398.4,496.21 L398.9,496.18 L399.4,496.16 L399.9,496.14 L400.4,496.11 L400.9,496.08 L401.4,496.06 L401.9,496.03 L402.4,495.99 L402.9,495.96 L403.4,495.93 L403.9,495.89 L404.4,495.85 L404.9,495.82 L405.4,495.77 L405.9,495.73 L406.4,495.69 L406.9,495.64 L407.4,495.59 L407.9,495.54 L408.4,495.49 L408.9,495.44 L409.4,495.38 L409.9,495.32 L410.4,495.26 L410.9,495.19 L411.4,495.13 L411.9,495.06 L412.4,494.99 L412.9,494.91 L413.4,494.84 L413.9,494.76 L414.4,494.68 L414.9,494.59 L415.4,494.5 L415.9,494.41 L416.4,494.32 L416.9,494.22 L417.4,494.12 L417.9,494.01 L418.4,493.91 L418.9,493.8 L419.4,493.68 L419.9,493.56 L420.4,493.44 L420.9,493.32 L421.4,493.19 L421.9,493.06 L422.4,492.92 L422.9,492.78 L423.4,492.63 L423.9,492.49 L424.4,492.33 L424.9,492.18 L425.4,492.02 L425.9,491.85 L426.4,491.68 L426.9,491.51 L427.4,491.33 L427.9,491.15 L428.4,490.96 L428.9,490.77 L429.4,490.57 L429.9,490.37 L430.4,490.17 L430.9,489.96 L431.4,489.75 L431.9,489.53 L432.4,489.31 L432.9,489.08 L433.4,488.85 L433.9,488.61 L434.4,488.37 L434.9,488.12 L435.4,487.87 L435.9,487.62 L436.4,487.36 L436.9,487.1 L437.4,486.83 L437.9,486.56 L438.4,486.28 L438.9,486 L439.4,485.72 L439.9,485.43 L440.4,485.14 L440.9,484.84 L441.4,484.54 L441.9,484.24 L442.4,483.93 L442.9,483.62 L443.4,483.3 L443.9,482.98 L444.4,482.66 L444.9,482.34 L445.4,482.01 L445.9,481.68 L446.4,481.35 L446.9,481.01 L447.4,480.68 L447.9,480.33 L448.4,479.99 L448.9,479.65 L449.4,479.3 L449.9,478.95 L450.4,478.61 L450.9,478.26 L451.4,477.9 L451.9,477.55 L452.4,477.2 L452.9,476.85 L453.4,476.49 L453.9,476.14 L454.4,475.79 L454.9,475.44 L455.4,475.08 L455.9,474.73 L456.4,474.38 L456.9,474.04 L457.4,473.69 L457.9,473.34 L458.4,473 L458.9,472.66 L459.4,472.32 L459.9,471.99 L460.4,471.66 L460.9,471.33 L461.4,471.01 L461.9,470.69 L462.4,470.37 L462.9,470.06 L463.4,469.75 L463.9,469.45 L464.4,469.15 L464.9,468.86 L465.4,468.58 L465.9,468.3 L466.4,468.03 L466.9,467.76 L467.4,467.5 L467.9,467.25 L468.4,467.01 L468.9,466.77 L469.4,466.54 L469.9,466.32 L470.4,466.1 L470.9,465.9 L471.4,465.7 L471.9,465.52 L472.4,465.34 L472.9,465.17 L473.4,465.01 L473.9,464.86 L474.4,464.73 L474.9,464.6 L475.4,464.48 L475.9,464.37 L476.4,464.27 L476.9,464.18 L477.4,464.11 L477.9,464.04 L478.4,463.99 L478.9,463.94 L479.4,463.91 L479.9,463.89 L480.4,463.87 L480.9,463.87 L481.4,463.89 L481.9,463.91 L482.4,463.94 L482.9,463.99 L483.4,464.04 L483.9,464.11 L484.4,464.19 L484.9,464.27 L485.4,464.37 L485.9,464.48 L486.4,464.6 L486.9,464.73 L487.4,464.87 L487.9,465.02 L488.4,465.18 L488.9,465.35 L489.4,465.53 L489.9,465.72 L490.4,465.92 L490.9,466.13 L491.4,466.34 L491.9,466.57 L492.4,466.8 L492.9,467.04 L493.4,467.29 L493.9,467.55 L494.4,467.81 L494.9,468.09 L495.4,468.36 L495.9,468.65 L496.4,468.94 L496.9,469.24 L497.4,469.54 L497.9,469.85 L498.4,470.16 L498.9,470.48 L499.4,470.81 L499.9,471.14 L500.4,471.47 L500.9,471.81 L501.4,472.15 L501.9,472.49 L502.4,472.84 L502.9,473.19 L503.4,473.54 L503.9,473.9 L504.4,474.26 L504.9,474.62 L505.4,474.98 L505.9,475.34 L506.4,475.71 L506.9,476.07 L507.4,476.44 L507.9,476.8 L508.4,477.17 L508.9,477.54 L509.4,477.9 L509.9,478.27 L510.4,478.64 L510.9,479 L511.4,479.37 L511.9,479.73 L512.4,480.09 L512.9,480.45 L513.4,480.81 L513.9,481.17 L514.4,481.52 L514.9,481.87 L515.4,482.22 L515.9,482.57 L516.4,482.92 L516.9,483.26 L517.4,483.6 L517.9,483.93 L518.4,484.27 L518.9,484.6 L519.4,484.92 L519.9,485.24 L520.4,485.56 L520.9,485.88 L521.4,486.19 L521.9,486.5 L522.4,486.8 L522.9,487.1 L523.4,487.39 L523.9,487.68 L524.4,487.97 L524.9,488.25 L525.4,488.53 L525.9,488.81 L526.4,489.07 L526.9,489.34 L527.4,489.6 L527.9,489.86 L528.4,490.11 L528.9,490.35 L529.4,490.6 L529.9,490.83 L530.4,491.07 L530.9,491.3 L531.4,491.52 L531.9,491.74 L532.4,491.95 L532.9,492.16 L533.4,492.37 L533.9,492.57 L534.4,492.77 L534.9,492.96 L535.4,493.15 L535.9,493.33 L536.4,493.51 L536.9,493.69 L537.4,493.86 L537.9,494.03 L538.4,494.19 L538.9,494.35 L539.4,494.51 L539.9,494.66 L540.4,494.81 L540.9,494.95 L541.4,495.09 L541.9,495.23 L542.4,495.36 L542.9,495.49 L543.4,495.61 L543.9,495.74 L544.4,495.85 L544.9,495.97 L545.4,496.08 L545.9,496.19 L546.4,496.3 L546.9,496.4 L547.4,496.5 L547.9,496.6 L548.4,496.69 L548.9,496.78 L549.4,496.87 L549.9,496.96 L550.4,497.04 L550.9,497.12 L551.4,497.2 L551.9,497.27 L552.4,497.35 L552.9,497.42 L553.4,497.49 L553.9,497.55 L554.4,497.62 L554.9,497.68 L555.4,497.74 L555.9,497.8 L556.4,497.86 L556.9,497.91 L557.4,497.97 L557.9,498.02 L558.4,498.07 L558.9,498.12 L559.4,498.16 L559.9,498.21 L560.4,498.25 L560.9,498.3 L561.4,498.34 L561.9,498.38 L562.4,498.42 L562.9,498.45 L563.4,498.49 L563.9,498.52 L564.4,498.56 L564.9,498.59 L565.4,498.62 L565.9,498.65 L566.4,498.68 L566.9,498.71 L567.4,498.74 L567.9,498.77 L568.4,498.8 L568.9,498.82 L569.4,498.85 L569.9,498.87 L570.4,498.89 L570.9,498.92 L571.4,498.94 L571.9,498.96 L572.4,498.98 L572.9,499 L573.4,499.02 L573.9,499.04 L574.4,499.06 L574.9,499.08 L575.4,499.1 L575.9,499.11 L576.4,499.13 L576.9,499.15 L577.4,499.17 L577.9,499.18 L578.4,499.2 L578.9,499.21 L579.4,499.23 L579.9,499.24 L580.4,499.26 L580.9,499.27 L581.4,499.28 L581.9,499.3 L582.4,499.31 L582.9,499.33 L583.4,499.34 L583.9,499.35 L584.4,499.36 L584.9,499.38 L585.4,499.39 L585.9,499.4 L586.4,499.41 L586.9,499.42 L587.4,499.43 L587.9,499.45 L588.4,499.46 L588.9,499.47 L589.4,499.48 L589.9,499.49 L590.4,499.5 L590.9,499.51 L591.4,499.52 L591.9,499.53 L592.4,499.54 L592.9,499.55 L593.4,499.56 L593.9,499.57 L594.4,499.58 L594.9,499.59 L595.4,499.6 L595.9,499.61 L596.4,499.62 L596.9,499.63 L597.4,499.64 L597.9,499.65 L598.4,499.66 L598.9,499.67 L599.4,499.68 L599.9,499.69 L600.4,499.7 L600.9,499.71 L601.4,499.72 L601.4,499.97 L600.9,499.96 L600.4,499.95 L599.9,499.95 L599.4,499.94 L598.9,499.93 L598.4,499.93 L597.9,499.92 L597.4,499.91 L596.9,499.9 L596.4,499.9 L595.9,499.89 L595.4,499.88 L594.9,499.88 L594.4,499.87 L593.9,499.86 L593.4,499.86 L592.9,499.85 L592.4,499.84 L591.9,499.84 L591.4,499.83 L590.9,499.82 L590.4,499.81 L589.9,499.81 L589.4,499.8 L588.9,499.79 L588.4,499.79 L587.9,499.78 L587.4,499.77 L586.9,499.77 L586.4,499.76 L585.9,499.75 L585.4,499.75 L584.9,499.74 L584.4,499.73 L583.9,499.72 L583.4,499.72 L582.9,499.71 L582.4,499.7 L581.9,499.7 L581.4,499.69 L580.9,499.68 L580.4,499.68 L579.9,499.67 L579.4,499.66 L578.9,499.65 L578.4,499.65 L577.9,499.64 L577.4,499.63 L576.9,499.63 L576.4,499.62 L575.9,499.61 L575.4,499.61 L574.9,499.6 L574.4,499.59 L573.9,499.59 L573.4,499.58 L572.9,499.57 L572.4,499.56 L571.9,499.56 L571.4,499.55 L570.9,499.54 L570.4,499.54 L569.9,499.53 L569.4,499.52 L568.9,499.52 L568.4,499.51 L567.9,499.5 L567.4,499.5 L566.9,499.49 L566.4,499.48 L565.9,499.47 L565.4,499.47 L564.9,499.46 L564.4,499.45 L563.9,499.45 L563.4,499.44 L562.9,499.43 L562.4,499.43 L561.9,499.42 L561.4,499.41 L560.9,499.41 L560.4,499.4 L559.9,499.39 L559.4,499.38 L558.9,499.38 L558.4,499.37 L557.9,499.36 L557.4,499.36 L556.9,499.35 L556.4,499.34 L555.9,499.34 L555.4,499.33 L554.9,499.32 L554.4,499.31 L553.9,499.31 L553.4,499.3 L552.9,499.29 L552.4,499.29 L551.9,499.28 L551.4,499.27 L550.9,499.27 L550.4,499.26 L549.9,499.25 L549.4,499.25 L548.9,499.24 L548.4,499.23 L547.9,499.22 L547.4,499.22 L546.9,499.21 L546.4,499.2 L545.9,499.2 L545.4,499.19 L544.9,499.18 L544.4,499.18 L543.9,499.17 L543.4,499.16 L542.9,499.16 L542.4,499.15 L541.9,499.14 L541.4,499.13 L540.9,499.13 L540.4,499.12 L539.9,499.11 L539.4,499.11 L538.9,499.1 L538.4,499.09 L537.9,499.09 L537.4,499.08 L536.9,499.07 L536.4,499.06 L535.9,499.06 L535.4,499.05 L534.9,499.04 L534.4,499.04 L533.9,499.03 L533.4,499.02 L532.9,499.02 L532.4,499.01 L531.9,499 L531.4,499 L530.9,499 L530.4,499 L529.9,499 L529.4,499 L528.9,499 L528.4,499 L527.9,499 L527.4,499 L526.9,499 L526.4,499 L525.9,499 L525.4,499 L524.9,499 L524.4,499 L523.9,499 L523.4,499 L522.9,499 L522.4,499 L521.9,499 L521.4,499 L520.9,499 L520.4,499 L519.9,499 L519.4,499 L518.9,499 L518.4,499 L517.9,499 L517.4,499 L516.9,499 L516.4,499 L515.9,499 L515.4,499 L514.9,499 L514.4,499 L513.9,499 L513.4,499 L512.9,499 L512.4,499 L511.9,499 L511.4,499 L510.9,499 L510.4,499 L509.9,499 L509.4,499 L508.9,499 L508.4,499 L507.9,499 L507.4,499 L506.9,499 L506.4,499 L505.9,499 L505.4,499 L504.9,499 L504.4,499 L503.9,499 L503.4,499 L502.9,499 L502.4,499 L501.9,499 L501.4,499 L500.9,499 L500.4,499 L499.9,499 L499.4,499 L498.9,499 L498.4,499 L497.9,499 L497.4,499 L496.9,499 L496.4,499 L495.9,499 L495.4,499 L494.9,499 L494.4,499 L493.9,499 L493.4,499 L492.9,499 L492.4,499 L491.9,499 L491.4,499 L490.9,499 L490.4,499 L489.9,499 L489.4,499 L488.9,499 L488.4,499 L487.9,499 L487.4,499 L486.9,499 L486.4,499 L485.9,499 L485.4,499 L484.9,499 L484.4,499 L483.9,499 L483.4,499 L482.9,499 L482.4,499 L481.9,499 L481.4,499 L480.9,499 L480.4,499 L479.9,499 L479.4,499 L478.9,499 L478.4,499 L477.9,499 L477.4,499 L476.9,499 L476.4,499 L475.9,499 L475.4,499 L474.9,499 L474.4,499 L473.9,499 L473.4,499 L472.9,499 L472.4,499 L471.9,499 L471.4,499 L470.9,499 L470.4,499 L469.9,499 L469.4,499 L468.9,499 L468.4,499 L467.9,499 L467.4,499 L466.9,499 L466.4,499 L465.9,499 L465.4,499 L464.9,499 L464.4,499 L463.9,499 L463.4,499 L462.9,499 L462.4,499 L461.9,499 L461.4,499 L460.9,499 L460.4,499 L459.9,499 L459.4,499 L458.9,499 L458.4,499 L457.9,499 L457.4,499 L456.9,499 L456.4,499 L455.9,499 L455.4,499 L454.9,499 L454.4,499 L453.9,499 L453.4,499 L452.9,499 L452.4,499 L451.9,499 L451.4,499 L450.9,499 L450.4,499 L449.9,499 L449.4,499 L448.9,499 L448.4,499 L447.9,499 L447.4,499 L446.9,499 L446.4,499 L445.9,499 L445.4,499 L444.9,499 L444.4,499 L443.9,499 L443.4,499 L442.9,499 L442.4,499 L441.9,499 L441.4,499 L440.9,499 L440.4,499 L439.9,499 L439.4,499 L438.9,499 L438.4,499 L437.9,499 L437.4,499 L436.9,499 L436.4,499 L435.9,499 L435.4,499 L434.9,499 L434.4,499 L433.9,499 L433.4,499 L432.9,499 L432.4,499 L431.9,499 L431.4,499 L430.9,499 L430.4,499 L429.9,499 L429.4,499 L428.9,499 L428.4,499 L427.9,499 L427.4,499 L426.9,499 L426.4,499 L425.9,499 L425.4,499 L424.9,499 L424.4,499 L423.9,499 L423.4,499 L422.9,499 L422.4,499 L421.9,499 L421.4,499 L420.9,499 L420.4,499 L419.9,499 L419.4,499 L418.9,499 L418.4,499 L417.9,499 L417.4,499 L416.9,499 L416.4,499 L415.9,499 L415.4,499 L414.9,499 L414.4,499 L413.9,499 L413.4,499 L412.9,499 L412.4,499 L411.9,499 L411.4,499 L410.9,499 L410.4,499 L409.9,499 L409.4,499 L408.9,499 L408.4,499 L407.9,499 L407.4,499 L406.9,499 L406.4,499 L405.9,499 L405.4,499 L404.9,499 L404.4,499 L403.9,499 L403.4,499 L402.9,499 L402.4,499 L401.9,499 L401.4,499 L400.9,499 L400.4,499 L399.9,499 L399.4,499 L398.9,499 L398.4,499 L397.9,499 L397.4,499 L396.9,499 L396.4,499 L395.9,499 L395.4,499 L394.9,499 L394.4,499 L393.9,499 L393.4,499 L392.9,499 L392.4,499 L391.9,499 L391.4,499 L390.9,499 L390.4,499 L389.9,499 L389.4,499 L388.9,499 L388.4,499 L387.9,499 L387.4,499 L386.9,499 L386.4,499 L385.9,499 L385.4,499 L384.9,499 L384.4,499 L383.9,499 L383.4,499 L382.9,499 L382.4,499 L381.9,499 L381.4,499 L380.9,499 L380.4,499 Z" fill="url(#gt)"/>
<path d="M367.4,496.33 L367.9,496.33 L368.4,496.32 L368.9,496.32 L369.4,496.32 L369.9,496.31 L370.4,496.31 L370.9,496.3 L371.4,496.29 L371.9,496.29 L372.4,496.28 L372.9,496.27 L373.4,496.26 L373.9,496.26 L374.4,496.25 L374.9,496.23 L375.4,496.22 L375.9,496.21 L376.4,496.2 L376.9,496.18 L377.4,496.17 L377.9,496.15 L378.4,496.13 L378.9,496.11 L379.4,496.09 L379.9,496.07 L380.4,496.05 L380.9,496.03 L381.4,496 L381.9,495.97 L382.4,495.95 L382.9,495.92 L383.4,495.88 L383.9,495.85 L384.4,495.82 L384.9,495.78 L385.4,495.74 L385.9,495.7 L386.4,495.66 L386.9,495.61 L387.4,495.57 L387.9,495.52 L388.4,495.47 L388.9,495.42 L389.4,495.36 L389.9,495.3 L390.4,495.24 L390.9,495.18 L391.4,495.11 L391.9,495.04 L392.4,494.97 L392.9,494.9 L393.4,494.82 L393.9,494.74 L394.4,494.66 L394.9,494.57 L395.4,494.48 L395.9,494.39 L396.4,494.3 L396.9,494.2 L397.4,494.09 L397.9,493.99 L398.4,493.88 L398.9,493.77 L399.4,493.65 L399.9,493.53 L400.4,493.4 L400.9,493.28 L401.4,493.15 L401.9,493.01 L402.4,492.87 L402.9,492.73 L403.4,492.58 L403.9,492.43 L404.4,492.27 L404.9,492.11 L405.4,491.95 L405.9,491.79 L406.4,491.61 L406.9,491.44 L407.4,491.26 L407.9,491.08 L408.4,490.89 L408.9,490.7 L409.4,490.51 L409.9,490.31 L410.4,490.11 L410.9,489.9 L411.4,489.7 L411.9,489.48 L412.4,489.27 L412.9,489.05 L413.4,488.83 L413.9,488.6 L414.4,488.37 L414.9,488.14 L415.4,487.91 L415.9,487.67 L416.4,487.43 L416.9,487.19 L417.4,486.95 L417.9,486.7 L418.4,486.46 L418.9,486.21 L419.4,485.96 L419.9,485.7 L420.4,485.45 L420.9,485.2 L421.4,484.94 L421.9,484.69 L422.4,484.43 L422.9,484.17 L423.4,483.92 L423.9,483.66 L424.4,483.41 L424.9,483.15 L425.4,482.9 L425.9,482.65 L426.4,482.4 L426.9,482.15 L427.4,481.91 L427.9,481.66 L428.4,481.42 L428.9,481.18 L429.4,480.95 L429.9,480.72 L430.4,480.49 L430.9,480.27 L431.4,480.05 L431.9,479.83 L432.4,479.62 L432.9,479.42 L433.4,479.22 L433.9,479.03 L434.4,478.84 L434.9,478.66 L435.4,478.49 L435.9,478.32 L436.4,478.16 L436.9,478.01 L437.4,477.86 L437.9,477.73 L438.4,477.6 L438.9,477.48 L439.4,477.37 L439.9,477.26 L440.4,477.17 L440.9,477.08 L441.4,477.01 L441.9,476.94 L442.4,476.88 L442.9,476.83 L443.4,476.8 L443.9,476.77 L444.4,476.75 L444.9,476.74 L445.4,476.74 L445.9,476.75 L446.4,476.77 L446.9,476.81 L447.4,476.85 L447.9,476.9 L448.4,476.96 L448.9,477.03 L449.4,477.11 L449.9,477.19 L450.4,477.29 L450.9,477.4 L451.4,477.51 L451.9,477.64 L452.4,477.77 L452.9,477.91 L453.4,478.06 L453.9,478.22 L454.4,478.39 L454.9,478.56 L455.4,478.74 L455.9,478.92 L456.4,479.12 L456.9,479.32 L457.4,479.52 L457.9,479.73 L458.4,479.95 L458.9,480.17 L459.4,480.4 L459.9,480.63 L460.4,480.87 L460.9,481.11 L461.4,481.35 L461.9,481.6 L462.4,481.85 L462.9,482.11 L463.4,482.37 L463.9,482.62 L464.4,482.89 L464.9,483.15 L465.4,483.41 L465.9,483.68 L466.4,483.95 L466.9,484.22 L467.4,484.49 L467.9,484.76 L468.4,485.03 L468.9,485.3 L469.4,485.57 L469.9,485.83 L470.4,486.1 L470.9,486.37 L471.4,486.64 L471.9,486.9 L472.4,487.16 L472.9,487.43 L473.4,487.69 L473.9,487.94 L474.4,488.2 L474.9,488.45 L475.4,488.7 L475.9,488.95 L476.4,489.2 L476.9,489.44 L477.4,489.68 L477.9,489.91 L478.4,490.15 L478.9,490.38 L479.4,490.6 L479.9,490.83 L480.4,491.05 L480.9,491.26 L481.4,491.47 L481.9,491.68 L482.4,491.89 L482.9,492.09 L483.4,492.29 L483.9,492.48 L484.4,492.67 L484.9,492.85 L485.4,493.03 L485.9,493.21 L486.4,493.39 L486.9,493.56 L487.4,493.72 L487.9,493.88 L488.4,494.04 L488.9,494.19 L489.4,494.34 L489.9,494.49 L490.4,494.63 L490.9,494.77 L491.4,494.91 L491.9,495.04 L492.4,495.16 L492.9,495.29 L493.4,495.41 L493.9,495.53 L494.4,495.64 L494.9,495.75 L495.4,495.86 L495.9,495.96 L496.4,496.06 L496.9,496.16 L497.4,496.25 L497.9,496.34 L498.4,496.43 L498.9,496.52 L499.4,496.6 L499.9,496.68 L500.4,496.76 L500.9,496.83 L501.4,496.9 L501.9,496.97 L502.4,497.04 L502.9,497.11 L503.4,497.17 L503.9,497.23 L504.4,497.29 L504.9,497.35 L505.4,497.4 L505.9,497.45 L506.4,497.5 L506.9,497.55 L507.4,497.6 L507.9,497.64 L508.4,497.69 L508.9,497.73 L509.4,497.77 L509.9,497.81 L510.4,497.85 L510.9,497.89 L511.4,497.92 L511.9,497.95 L512.4,497.99 L512.9,498.02 L513.4,498.05 L513.9,498.08 L514.4,498.11 L514.9,498.14 L515.4,498.16 L515.9,498.19 L516.4,498.21 L516.9,498.24 L517.4,498.26 L517.9,498.28 L518.4,498.31 L518.9,498.33 L519.4,498.35 L519.9,498.37 L520.4,498.39 L520.9,498.4 L521.4,498.42 L521.9,498.44 L522.4,498.46 L522.9,498.48 L523.4,498.49 L523.9,498.51 L524.4,498.52 L524.9,498.54 L525.4,498.55 L525.9,498.57 L526.4,498.58 L526.9,498.6 L527.4,498.61 L527.9,498.62 L528.4,498.64 L528.9,498.65 L529.4,498.66 L529.9,498.67 L530.4,498.69 L530.9,498.7 L531.4,498.71 L531.9,498.72 L532.4,498.73 L532.9,498.74 L533.4,498.75 L533.9,498.77 L534.4,498.78 L534.9,498.79 L535.4,498.8 L535.9,498.81 L535.9,499.06 L535.4,499.05 L534.9,499.04 L534.4,499.04 L533.9,499.03 L533.4,499.02 L532.9,499.02 L532.4,499.01 L531.9,499 L531.4,499 L530.9,499 L530.4,499 L529.9,499 L529.4,499 L528.9,499 L528.4,499 L527.9,499 L527.4,499 L526.9,499 L526.4,499 L525.9,499 L525.4,499 L524.9,499 L524.4,499 L523.9,499 L523.4,499 L522.9,499 L522.4,499 L521.9,499 L521.4,499 L520.9,499 L520.4,499 L519.9,499 L519.4,499 L518.9,499 L518.4,499 L517.9,499 L517.4,499 L516.9,499 L516.4,499 L515.9,499 L515.4,499 L514.9,499 L514.4,499 L513.9,499 L513.4,499 L512.9,499 L512.4,499 L511.9,499 L511.4,499 L510.9,499 L510.4,499 L509.9,499 L509.4,499 L508.9,499 L508.4,499 L507.9,499 L507.4,499 L506.9,499 L506.4,499 L505.9,499 L505.4,499 L504.9,499 L504.4,499 L503.9,499 L503.4,499 L502.9,499 L502.4,499 L501.9,499 L501.4,499 L500.9,499 L500.4,499 L499.9,499 L499.4,499 L498.9,499 L498.4,499 L497.9,499 L497.4,499 L496.9,499 L496.4,499 L495.9,499 L495.4,499 L494.9,499 L494.4,499 L493.9,499 L493.4,499 L492.9,499 L492.4,499 L491.9,499 L491.4,499 L490.9,499 L490.4,499 L489.9,499 L489.4,499 L488.9,499 L488.4,499 L487.9,499 L487.4,499 L486.9,499 L486.4,499 L485.9,499 L485.4,499 L484.9,499 L484.4,499 L483.9,499 L483.4,499 L482.9,499 L482.4,499 L481.9,499 L481.4,499 L480.9,499 L480.4,499 L479.9,499 L479.4,499 L478.9,499 L478.4,499 L477.9,499 L477.4,499 L476.9,499 L476.4,499 L475.9,499 L475.4,499 L474.9,499 L474.4,499 L473.9,499 L473.4,499 L472.9,499 L472.4,499 L471.9,499 L471.4,499 L470.9,499 L470.4,499 L469.9,499 L469.4,499 L468.9,499 L468.4,499 L467.9,499 L467.4,499 L466.9,499 L466.4,499 L465.9,499 L465.4,499 L464.9,499 L464.4,499 L463.9,499 L463.4,499 L462.9,499 L462.4,499 L461.9,499 L461.4,499 L460.9,499 L460.4,499 L459.9,499 L459.4,499 L458.9,499 L458.4,499 L457.9,499 L457.4,499 L456.9,499 L456.4,499 L455.9,499 L455.4,499 L454.9,499 L454.4,499 L453.9,499 L453.4,499 L452.9,499 L452.4,499 L451.9,499 L451.4,499 L450.9,499 L450.4,499 L449.9,499 L449.4,499 L448.9,499 L448.4,499 L447.9,499 L447.4,499 L446.9,499 L446.4,499 L445.9,499 L445.4,499 L444.9,499 L444.4,499 L443.9,499 L443.4,499 L442.9,499 L442.4,499 L441.9,499 L441.4,499 L440.9,499 L440.4,499 L439.9,499 L439.4,499 L438.9,499 L438.4,499 L437.9,499 L437.4,499 L436.9,499 L436.4,499 L435.9,499 L435.4,499 L434.9,499 L434.4,499 L433.9,499 L433.4,499 L432.9,499 L432.4,499 L431.9,499 L431.4,499 L430.9,499 L430.4,499 L429.9,499 L429.4,499 L428.9,499 L428.4,499 L427.9,499 L427.4,499 L426.9,499 L426.4,499 L425.9,499 L425.4,499 L424.9,499 L424.4,499 L423.9,499 L423.4,499 L422.9,499 L422.4,499 L421.9,499 L421.4,499 L420.9,499 L420.4,499 L419.9,499 L419.4,499 L418.9,499 L418.4,499 L417.9,499 L417.4,499 L416.9,499 L416.4,499 L415.9,499 L415.4,499 L414.9,499 L414.4,499 L413.9,499 L413.4,499 L412.9,499 L412.4,499 L411.9,499 L411.4,499 L410.9,499 L410.4,499 L409.9,499 L409.4,499 L408.9,499 L408.4,499 L407.9,499 L407.4,499 L406.9,499 L406.4,499 L405.9,499 L405.4,499 L404.9,499 L404.4,499 L403.9,499 L403.4,499 L402.9,499 L402.4,499 L401.9,499 L401.4,499 L400.9,499 L400.4,499 L399.9,499 L399.4,499 L398.9,499 L398.4,499 L397.9,499 L397.4,499 L396.9,499 L396.4,499 L395.9,499 L395.4,499 L394.9,499 L394.4,499 L393.9,499 L393.4,499 L392.9,499 L392.4,499 L391.9,499 L391.4,499 L390.9,499 L390.4,499 L389.9,499 L389.4,499 L388.9,499 L388.4,499 L387.9,499 L387.4,499 L386.9,499 L386.4,499 L385.9,499 L385.4,499 L384.9,499 L384.4,499 L383.9,499 L383.4,499 L382.9,499 L382.4,499 L381.9,499 L381.4,499 L380.9,499 L380.4,499 L379.9,499 L379.4,499 L378.9,499 L378.4,499 L377.9,499 L377.4,499 L376.9,499 L376.4,499 L375.9,499 L375.4,499 L374.9,499 L374.4,499 L373.9,499 L373.4,499 L372.9,499 L372.4,499 L371.9,499 L371.4,499 L370.9,499 L370.4,499 L369.9,499 L369.4,499 L368.9,499 L368.4,499 L367.9,499 L367.4,499 Z" fill="url(#go)"/>
<rect x="44.3" y="18.1" width="281.2" height="226.4" fill="none" stroke="#2e2e2e" stroke-width="1.9"/>
<line x1="44.3" y1="244.5" x2="44.3" y2="248.8" stroke="#2e2e2e" stroke-width="1.7"/>
<line x1="67.73" y1="244.5" x2="67.73" y2="246.8" stroke="#2e2e2e" stroke-width="1.7"/>
<line x1="91.17" y1="244.5" x2="91.17" y2="248.8" stroke="#2e2e2e" stroke-width="1.7"/>
<line x1="114.6" y1="244.5" x2="114.6" y2="246.8" stroke="#2e2e2e" stroke-width="1.7"/>
<line x1="138.03" y1="244.5" x2="138.03" y2="248.8" stroke="#2e2e2e" stroke-width="1.7"/>
<line x1="161.47" y1="244.5" x2="161.47" y2="246.8" stroke="#2e2e2e" stroke-width="1.7"/>
<line x1="184.9" y1="244.5" x2="184.9" y2="248.8" stroke="#2e2e2e" stroke-width="1.7"/>
<line x1="208.33" y1="244.5" x2="208.33" y2="246.8" stroke="#2e2e2e" stroke-width="1.7"/>
<line x1="231.77" y1="244.5" x2="231.77" y2="248.8" stroke="#2e2e2e" stroke-width="1.7"/>
<line x1="255.2" y1="244.5" x2="255.2" y2="246.8" stroke="#2e2e2e" stroke-width="1.7"/>
<line x1="278.63" y1="244.5" x2="278.63" y2="248.8" stroke="#2e2e2e" stroke-width="1.7"/>
<line x1="302.07" y1="244.5" x2="302.07" y2="246.8" stroke="#2e2e2e" stroke-width="1.7"/>
<line x1="325.5" y1="244.5" x2="325.5" y2="248.8" stroke="#2e2e2e" stroke-width="1.7"/>
<rect x="366.3" y="20.6" width="281.3" height="226.6" fill="none" stroke="#2e2e2e" stroke-width="1.9"/>
<line x1="366.3" y1="247.2" x2="366.3" y2="251.5" stroke="#2e2e2e" stroke-width="1.7"/>
<line x1="387.94" y1="247.2" x2="387.94" y2="249.5" stroke="#2e2e2e" stroke-width="1.7"/>
<line x1="409.58" y1="247.2" x2="409.58" y2="251.5" stroke="#2e2e2e" stroke-width="1.7"/>
<line x1="431.22" y1="247.2" x2="431.22" y2="249.5" stroke="#2e2e2e" stroke-width="1.7"/>
<line x1="452.85" y1="247.2" x2="452.85" y2="251.5" stroke="#2e2e2e" stroke-width="1.7"/>
<line x1="474.49" y1="247.2" x2="474.49" y2="249.5" stroke="#2e2e2e" stroke-width="1.7"/>
<line x1="496.13" y1="247.2" x2="496.13" y2="251.5" stroke="#2e2e2e" stroke-width="1.7"/>
<line x1="517.77" y1="247.2" x2="517.77" y2="249.5" stroke="#2e2e2e" stroke-width="1.7"/>
<line x1="539.41" y1="247.2" x2="539.41" y2="251.5" stroke="#2e2e2e" stroke-width="1.7"/>
<line x1="561.05" y1="247.2" x2="561.05" y2="249.5" stroke="#2e2e2e" stroke-width="1.7"/>
<line x1="582.68" y1="247.2" x2="582.68" y2="251.5" stroke="#2e2e2e" stroke-width="1.7"/>
<line x1="604.32" y1="247.2" x2="604.32" y2="249.5" stroke="#2e2e2e" stroke-width="1.7"/>
<line x1="625.96" y1="247.2" x2="625.96" y2="251.5" stroke="#2e2e2e" stroke-width="1.7"/>
<line x1="647.6" y1="247.2" x2="647.6" y2="249.5" stroke="#2e2e2e" stroke-width="1.7"/>
<rect x="44.7" y="300.5" width="280.7" height="226.3" fill="none" stroke="#2e2e2e" stroke-width="1.9"/>
<line x1="44.7" y1="526.8" x2="44.7" y2="531.1" stroke="#2e2e2e" stroke-width="1.7"/>
<line x1="64.75" y1="526.8" x2="64.75" y2="529.1" stroke="#2e2e2e" stroke-width="1.7"/>
<line x1="84.8" y1="526.8" x2="84.8" y2="531.1" stroke="#2e2e2e" stroke-width="1.7"/>
<line x1="104.85" y1="526.8" x2="104.85" y2="529.1" stroke="#2e2e2e" stroke-width="1.7"/>
<line x1="124.9" y1="526.8" x2="124.9" y2="531.1" stroke="#2e2e2e" stroke-width="1.7"/>
<line x1="144.95" y1="526.8" x2="144.95" y2="529.1" stroke="#2e2e2e" stroke-width="1.7"/>
<line x1="165" y1="526.8" x2="165" y2="531.1" stroke="#2e2e2e" stroke-width="1.7"/>
<line x1="185.05" y1="526.8" x2="185.05" y2="529.1" stroke="#2e2e2e" stroke-width="1.7"/>
<line x1="205.1" y1="526.8" x2="205.1" y2="531.1" stroke="#2e2e2e" stroke-width="1.7"/>
<line x1="225.15" y1="526.8" x2="225.15" y2="529.1" stroke="#2e2e2e" stroke-width="1.7"/>
<line x1="245.2" y1="526.8" x2="245.2" y2="531.1" stroke="#2e2e2e" stroke-width="1.7"/>
<line x1="265.25" y1="526.8" x2="265.25" y2="529.1" stroke="#2e2e2e" stroke-width="1.7"/>
<line x1="285.3" y1="526.8" x2="285.3" y2="531.1" stroke="#2e2e2e" stroke-width="1.7"/>
<line x1="305.35" y1="526.8" x2="305.35" y2="529.1" stroke="#2e2e2e" stroke-width="1.7"/>
<line x1="325.4" y1="526.8" x2="325.4" y2="531.1" stroke="#2e2e2e" stroke-width="1.7"/>
<rect x="366.4" y="300.3" width="281.1" height="226.7" fill="none" stroke="#2e2e2e" stroke-width="1.9"/>
<line x1="366.4" y1="527" x2="366.4" y2="531.3" stroke="#2e2e2e" stroke-width="1.7"/>
<line x1="386.48" y1="527" x2="386.48" y2="529.3" stroke="#2e2e2e" stroke-width="1.7"/>
<line x1="406.56" y1="527" x2="406.56" y2="531.3" stroke="#2e2e2e" stroke-width="1.7"/>
<line x1="426.64" y1="527" x2="426.64" y2="529.3" stroke="#2e2e2e" stroke-width="1.7"/>
<line x1="446.71" y1="527" x2="446.71" y2="531.3" stroke="#2e2e2e" stroke-width="1.7"/>
<line x1="466.79" y1="527" x2="466.79" y2="529.3" stroke="#2e2e2e" stroke-width="1.7"/>
<line x1="486.87" y1="527" x2="486.87" y2="531.3" stroke="#2e2e2e" stroke-width="1.7"/>
<line x1="506.95" y1="527" x2="506.95" y2="529.3" stroke="#2e2e2e" stroke-width="1.7"/>
<line x1="527.03" y1="527" x2="527.03" y2="531.3" stroke="#2e2e2e" stroke-width="1.7"/>
<line x1="547.11" y1="527" x2="547.11" y2="529.3" stroke="#2e2e2e" stroke-width="1.7"/>
<line x1="567.19" y1="527" x2="567.19" y2="531.3" stroke="#2e2e2e" stroke-width="1.7"/>
<line x1="587.26" y1="527" x2="587.26" y2="529.3" stroke="#2e2e2e" stroke-width="1.7"/>
<line x1="607.34" y1="527" x2="607.34" y2="531.3" stroke="#2e2e2e" stroke-width="1.7"/>
<line x1="627.42" y1="527" x2="627.42" y2="529.3" stroke="#2e2e2e" stroke-width="1.7"/>
<line x1="647.5" y1="527" x2="647.5" y2="531.3" stroke="#2e2e2e" stroke-width="1.7"/>
<g font-family="Liberation Serif" font-weight="bold" fill="#111111" stroke="#111111" stroke-width="0.3">
<text x="44.3" y="259.7" font-size="9.5" text-anchor="middle" >1200</text>
<text x="91.17" y="259.7" font-size="9.5" text-anchor="middle" >1000</text>
<text x="138.03" y="259.7" font-size="9.5" text-anchor="middle" >800</text>
<text x="184.9" y="259.7" font-size="9.5" text-anchor="middle" >600</text>
<text x="231.77" y="259.7" font-size="9.5" text-anchor="middle" >400</text>
<text x="278.63" y="259.7" font-size="9.5" text-anchor="middle" >200</text>
<text x="325.5" y="259.7" font-size="9.5" text-anchor="middle" >0</text>
<text x="184.9" y="278.3" font-size="11.7" text-anchor="middle" >Binding Energy (eV)</text>
<text x="366.3" y="262.4" font-size="9.5" text-anchor="middle" >468</text>
<text x="409.58" y="262.4" font-size="9.5" text-anchor="middle" >466</text>
<text x="452.85" y="262.4" font-size="9.5" text-anchor="middle" >464</text>
<text x="496.13" y="262.4" font-size="9.5" text-anchor="middle" >462</text>
<text x="539.41" y="262.4" font-size="9.5" text-anchor="middle" >460</text>
<text x="582.68" y="262.4" font-size="9.5" text-anchor="middle" >458</text>
<text x="625.96" y="262.4" font-size="9.5" text-anchor="middle" >456</text>
<text x="506.95" y="281" font-size="11.7" text-anchor="middle" >Binding Energy (eV)</text>
<text x="44.7" y="542" font-size="9.5" text-anchor="middle" >172</text>
<text x="84.8" y="542" font-size="9.5" text-anchor="middle" >171</text>
<text x="124.9" y="542" font-size="9.5" text-anchor="middle" >170</text>
<text x="165" y="542" font-size="9.5" text-anchor="middle" >169</text>
<text x="205.1" y="542" font-size="9.5" text-anchor="middle" >168</text>
<text x="245.2" y="542" font-size="9.5" text-anchor="middle" >167</text>
<text x="285.3" y="542" font-size="9.5" text-anchor="middle" >166</text>
<text x="325.4" y="542" font-size="9.5" text-anchor="middle" >165</text>
<text x="185.05" y="560.6" font-size="11.7" text-anchor="middle" >Binding Energy (eV)</text>
<text x="366.4" y="542.2" font-size="9.5" text-anchor="middle" >534</text>
<text x="406.56" y="542.2" font-size="9.5" text-anchor="middle" >533</text>
<text x="446.71" y="542.2" font-size="9.5" text-anchor="middle" >532</text>
<text x="486.87" y="542.2" font-size="9.5" text-anchor="middle" >531</text>
<text x="527.03" y="542.2" font-size="9.5" text-anchor="middle" >530</text>
<text x="567.19" y="542.2" font-size="9.5" text-anchor="middle" >529</text>
<text x="607.34" y="542.2" font-size="9.5" text-anchor="middle" >528</text>
<text x="647.5" y="542.2" font-size="9.5" text-anchor="middle" >527</text>
<text x="506.95" y="560.8" font-size="11.7" text-anchor="middle" >Binding Energy (eV)</text>
<text transform="translate(34,127.4) rotate(-90)" font-size="11.7" text-anchor="middle">Intensity (a.u.)</text>
<text transform="translate(357,133.5) rotate(-90)" font-size="11.7" text-anchor="middle">Intensity (a.u.)</text>
<text transform="translate(35,413) rotate(-90)" font-size="11.7" text-anchor="middle">Intensity (a.u.)</text>
<text transform="translate(357,413) rotate(-90)" font-size="11.7" text-anchor="middle">Intensity (a.u.)</text>
<text x="57.1" y="43" font-size="19.8" text-anchor="start" >(a)</text>
<text x="379.8" y="46.4" font-size="19.8" text-anchor="start" >(b)</text>
<text x="57.1" y="325.1" font-size="19.8" text-anchor="start" >(c)</text>
<text x="378.9" y="325.1" font-size="19.8" text-anchor="start" >(d)</text>
<text x="641" y="37" font-size="11.5" text-anchor="end" >Ti 2p</text>
<text x="318.9" y="315.7" font-size="11.5" text-anchor="end" >S 2p</text>
<text x="643.2" y="314.2" font-size="11.5" text-anchor="end" >O 1s</text>
<text x="49" y="153.5" font-size="9.5" text-anchor="start" >TiKM3</text>
<text x="90" y="150" font-size="9.5" text-anchor="start" >OKL1</text>
<text x="179" y="148.8" font-size="9.5" text-anchor="start" >Ti2s</text>
<text x="194.6" y="41.2" font-size="9.5" text-anchor="start" >O1s</text>
<text x="216.4" y="88.5" font-size="9.5" text-anchor="start" >Ti2p</text>
<text x="250.6" y="201.7" font-size="9.5" text-anchor="start" >C1s</text>
<text x="300.4" y="196.7" font-size="9.5" text-anchor="start" >Ti3p</text>
<text x="423" y="154.8" text-anchor="start"><tspan font-size="9.5">TiO</tspan><tspan font-size="6.51" dy="2.8">2</tspan><tspan font-size="9.5" dy="-2.8"> 2p</tspan><tspan font-size="6.51" dy="2.8">1/2</tspan></text>
<text x="442.8" y="168.8" font-size="9.5" text-anchor="middle" >464.5 eV</text>
<text x="548.4" y="62.6" text-anchor="start"><tspan font-size="9.5">TiO</tspan><tspan font-size="6.51" dy="2.8">2</tspan><tspan font-size="9.5" dy="-2.8"> 2p</tspan><tspan font-size="6.51" dy="2.8">3/2</tspan></text>
<text x="567.8" y="76.5" font-size="9.5" text-anchor="middle" >458.8 eV</text>
<text x="88" y="425.8" text-anchor="start"><tspan font-size="9.8">SO</tspan><tspan font-size="6.71" dy="2.8">4</tspan><tspan font-size="6.71" dy="-7.8" dx="-1">2-</tspan><tspan font-size="9.8" dy="5"> 2p</tspan><tspan font-size="6.71" dy="2.8">1/2</tspan></text>
<text x="195.3" y="367.2" text-anchor="start"><tspan font-size="9.8">SO</tspan><tspan font-size="6.71" dy="2.8">4</tspan><tspan font-size="6.71" dy="-7.8" dx="-1">2-</tspan><tspan font-size="9.8" dy="5"> 2p</tspan><tspan font-size="6.71" dy="2.8">3/2</tspan></text>
<text x="109.4" y="439.5" font-size="9.5" text-anchor="middle" >169.6 eV</text>
<text x="215.8" y="381" font-size="9.5" text-anchor="middle" >168.4 eV</text>
<text x="415.6" y="456.6" font-size="9.5" text-anchor="middle" >-OH</text>
<text x="415.3" y="468.8" font-size="9.5" text-anchor="middle" >532.0 eV</text>
<text x="468.4" y="430.3" font-size="9.5" text-anchor="middle" >S-O</text>
<text x="468.3" y="442.7" font-size="9.5" text-anchor="middle" >531.1 eV</text>
<text x="555.5" y="358.6" font-size="9.5" text-anchor="middle" >Ti-O</text>
<text x="554.5" y="371" font-size="9.5" text-anchor="middle" >530.0 eV</text>
</g>
</svg>
</body></html>
